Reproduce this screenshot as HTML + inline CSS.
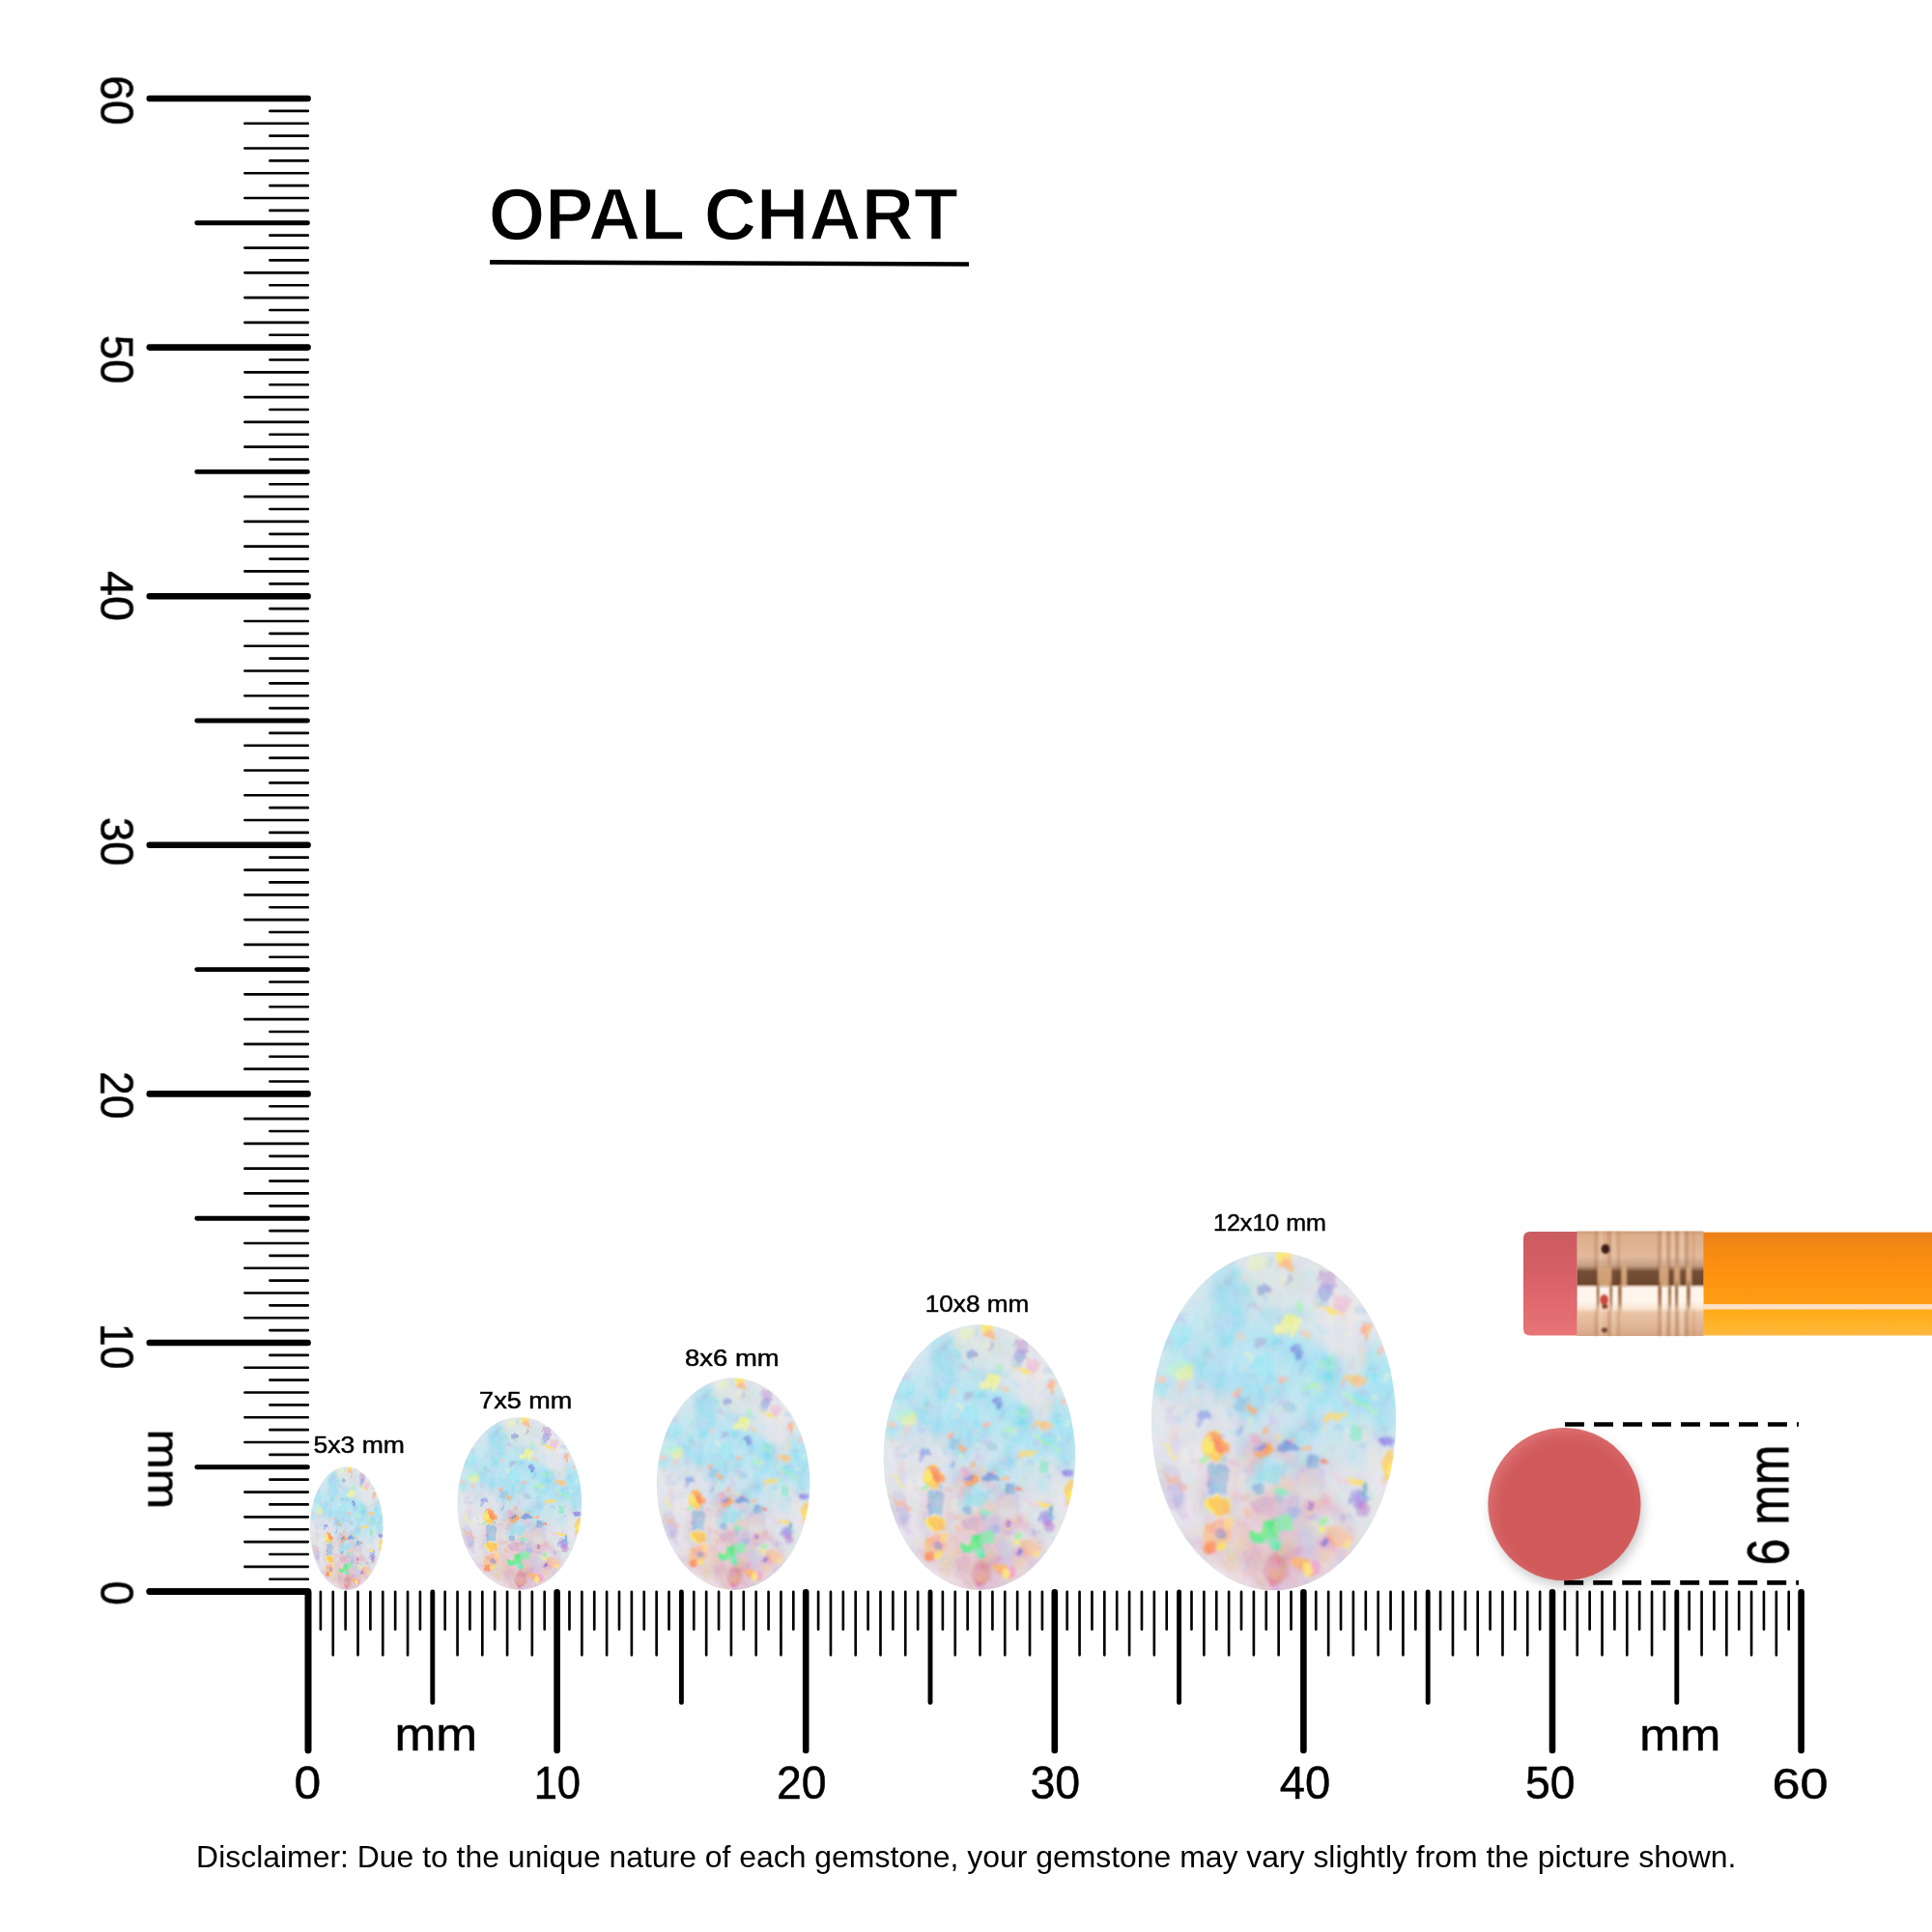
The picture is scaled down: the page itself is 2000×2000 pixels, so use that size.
<!DOCTYPE html>
<html lang="en"><head><meta charset="utf-8"><title>Opal Chart</title>
<style>html,body{margin:0;padding:0;background:#fff}body{width:2000px;height:2000px;overflow:hidden;font-family:"Liberation Sans",sans-serif}svg{display:block}</style></head><body>
<svg width="2000" height="2000" viewBox="0 0 2000 2000">
<defs>
<clipPath id="gclip"><ellipse cx="50" cy="69.2" rx="50" ry="69.2"/></clipPath>
<filter id="gb2" x="-30%" y="-30%" width="160%" height="160%"><feGaussianBlur stdDeviation="5"/></filter>
<filter id="gj" x="-5" y="-5" width="110" height="150" filterUnits="userSpaceOnUse"><feTurbulence type="fractalNoise" baseFrequency="0.22 0.16" numOctaves="3" seed="4" result="n"/><feDisplacementMap in="SourceGraphic" in2="n" scale="5.5" xChannelSelector="R" yChannelSelector="G"/><feGaussianBlur stdDeviation="0.6"/></filter>
<filter id="gj2" x="-5" y="-5" width="110" height="150" filterUnits="userSpaceOnUse"><feTurbulence type="fractalNoise" baseFrequency="0.09 0.07" numOctaves="3" seed="9" result="n"/><feDisplacementMap in="SourceGraphic" in2="n" scale="14" xChannelSelector="R" yChannelSelector="G"/><feGaussianBlur stdDeviation="1.6"/></filter>
<filter id="gn" x="0" y="0" width="100" height="138.4" filterUnits="userSpaceOnUse"><feTurbulence type="fractalNoise" baseFrequency="0.16 0.12" numOctaves="3" seed="21"/><feColorMatrix type="matrix" values="2.6 0 0 0 -0.75  0 2.6 0 0 -0.75  0 0 2.6 0 -0.75  0 0 0 0 1"/><feGaussianBlur stdDeviation="0.3"/></filter>
<g id="gem">
<g clip-path="url(#gclip)">
<rect x="-5" y="-5" width="110" height="150" fill="#dbe4e9"/>
<g filter="url(#gb2)">
<ellipse cx="30" cy="30" rx="30" ry="22" fill="#c4e2ec" opacity=".9"/>
<ellipse cx="36" cy="50" rx="34" ry="15" fill="#a6dcf0" opacity=".95" transform="rotate(-8 36 50)"/>
<ellipse cx="82" cy="54" rx="24" ry="15" fill="#98e0f2" opacity=".95"/>
<ellipse cx="56" cy="44" rx="22" ry="12" fill="#a0e0f2" opacity=".85"/>
<ellipse cx="55" cy="12" rx="26" ry="12" fill="#d9e3e2" opacity=".95"/>
<ellipse cx="80" cy="24" rx="18" ry="15" fill="#e0e2e8" opacity=".95"/>
<ellipse cx="16" cy="86" rx="18" ry="30" fill="#dcdce6" opacity=".95"/>
<ellipse cx="50" cy="118" rx="36" ry="20" fill="#dfc6ce" opacity=".9"/>
<ellipse cx="52" cy="128" rx="16" ry="10" fill="#d89c9e" opacity=".7"/>
<ellipse cx="58" cy="80" rx="20" ry="13" fill="#b8dcea" opacity=".85"/>
<ellipse cx="86" cy="92" rx="14" ry="18" fill="#dedfe6" opacity=".95"/>
<ellipse cx="30" cy="104" rx="10" ry="22" fill="#e8d0c8" opacity=".6"/>
</g>
<g filter="url(#gj2)">
<ellipse cx="45.2" cy="77.2" rx="7.6" ry="5.3" fill="#c8d8e8" opacity="0.79"/>
<ellipse cx="19.0" cy="110.9" rx="5.4" ry="6.1" fill="#dcdce8" opacity="0.49"/>
<ellipse cx="30.3" cy="12.5" rx="7.0" ry="6.5" fill="#98d8ee" opacity="0.69"/>
<ellipse cx="39.6" cy="62.5" rx="6.7" ry="6.3" fill="#98d8ee" opacity="0.78"/>
<ellipse cx="6.3" cy="4.9" rx="7.4" ry="6.0" fill="#c8e0f0" opacity="0.58"/>
<ellipse cx="59.1" cy="27.0" rx="4.2" ry="4.5" fill="#98d8ee" opacity="0.71"/>
<ellipse cx="45.7" cy="38.4" rx="8.0" ry="8.0" fill="#b0e4f4" opacity="0.73"/>
<ellipse cx="31.5" cy="31.7" rx="4.4" ry="3.4" fill="#b0e4f4" opacity="0.61"/>
<ellipse cx="84.7" cy="53.3" rx="7.8" ry="7.2" fill="#98d8ee" opacity="0.54"/>
<ellipse cx="92.7" cy="7.2" rx="4.9" ry="6.5" fill="#d4dee4" opacity="0.48"/>
<ellipse cx="62.9" cy="107.4" rx="4.3" ry="3.4" fill="#c4c4e6" opacity="0.46"/>
<ellipse cx="41.0" cy="127.4" rx="3.7" ry="6.5" fill="#e6bace" opacity="0.47"/>
<ellipse cx="79.7" cy="24.5" rx="5.8" ry="5.2" fill="#e8e6e0" opacity="0.84"/>
<ellipse cx="77.0" cy="57.9" rx="4.9" ry="5.0" fill="#c0e6f0" opacity="0.45"/>
<ellipse cx="86.4" cy="134.5" rx="6.0" ry="8.0" fill="#e4e4ee" opacity="0.53"/>
<ellipse cx="39.4" cy="117.9" rx="6.2" ry="3.5" fill="#f0ccba" opacity="0.54"/>
<ellipse cx="25.8" cy="106.6" rx="4.6" ry="4.5" fill="#e4e4ee" opacity="0.48"/>
<ellipse cx="20.9" cy="87.8" rx="3.1" ry="4.8" fill="#e8dce4" opacity="0.63"/>
<ellipse cx="95.9" cy="66.8" rx="5.9" ry="7.3" fill="#a4dcf0" opacity="0.70"/>
<ellipse cx="31.1" cy="31.5" rx="6.1" ry="6.6" fill="#a4dcf0" opacity="0.75"/>
<ellipse cx="94.0" cy="27.1" rx="7.8" ry="7.4" fill="#e4e4ec" opacity="0.62"/>
<ellipse cx="10.4" cy="5.3" rx="7.8" ry="4.2" fill="#a0e2f0" opacity="0.55"/>
<ellipse cx="82.4" cy="82.3" rx="4.5" ry="3.9" fill="#b0e4f4" opacity="0.50"/>
<ellipse cx="47.9" cy="90.2" rx="6.1" ry="3.4" fill="#a0e2f0" opacity="0.82"/>
<ellipse cx="20.4" cy="2.3" rx="4.3" ry="5.2" fill="#98d8ee" opacity="0.47"/>
<ellipse cx="28.2" cy="73.3" rx="7.9" ry="3.5" fill="#dcdce8" opacity="0.81"/>
<ellipse cx="98.0" cy="90.7" rx="6.5" ry="5.9" fill="#ece6ea" opacity="0.69"/>
<ellipse cx="92.4" cy="65.5" rx="4.8" ry="4.6" fill="#98d8ee" opacity="0.46"/>
<ellipse cx="63.6" cy="66.5" rx="6.7" ry="4.6" fill="#b0e4f4" opacity="0.48"/>
<ellipse cx="54.6" cy="101.7" rx="7.5" ry="6.7" fill="#f0ccba" opacity="0.77"/>
<ellipse cx="91.5" cy="48.6" rx="6.4" ry="7.5" fill="#a0e2f0" opacity="0.83"/>
<ellipse cx="3.0" cy="69.0" rx="3.1" ry="6.3" fill="#e0e4ea" opacity="0.68"/>
<ellipse cx="60.9" cy="11.1" rx="6.2" ry="8.0" fill="#d4dee4" opacity="0.74"/>
<ellipse cx="38.8" cy="101.4" rx="5.9" ry="5.2" fill="#c8d8e8" opacity="0.48"/>
<ellipse cx="75.0" cy="4.1" rx="6.0" ry="5.4" fill="#e8e6e0" opacity="0.83"/>
<ellipse cx="11.3" cy="107.6" rx="6.3" ry="5.4" fill="#e4e4ee" opacity="0.60"/>
<ellipse cx="14.3" cy="84.4" rx="5.6" ry="6.8" fill="#ece6ea" opacity="0.71"/>
<ellipse cx="44.2" cy="123.1" rx="4.6" ry="6.3" fill="#dcb2c4" opacity="0.70"/>
<ellipse cx="80.4" cy="104.1" rx="4.0" ry="4.1" fill="#e0e4ea" opacity="0.68"/>
<ellipse cx="31.6" cy="18.8" rx="5.5" ry="7.2" fill="#98d8ee" opacity="0.73"/>
<ellipse cx="95.0" cy="38.2" rx="3.8" ry="5.3" fill="#dcdce8" opacity="0.82"/>
<ellipse cx="83.1" cy="52.8" rx="5.6" ry="6.4" fill="#c8e0f0" opacity="0.58"/>
<ellipse cx="82.9" cy="38.4" rx="6.0" ry="6.4" fill="#dcdce8" opacity="0.68"/>
<ellipse cx="30.9" cy="109.2" rx="3.1" ry="3.7" fill="#e0e4ea" opacity="0.53"/>
<ellipse cx="76.9" cy="36.8" rx="6.9" ry="7.0" fill="#e4e4ec" opacity="0.63"/>
<ellipse cx="63.0" cy="90.4" rx="7.0" ry="7.8" fill="#dcb2c4" opacity="0.53"/>
<ellipse cx="47.5" cy="24.7" rx="3.1" ry="5.4" fill="#98d8ee" opacity="0.52"/>
<ellipse cx="27.2" cy="47.7" rx="6.5" ry="5.6" fill="#a4dcf0" opacity="0.61"/>
<ellipse cx="79.2" cy="125.1" rx="3.4" ry="7.7" fill="#c4c4e6" opacity="0.61"/>
<ellipse cx="45.1" cy="27.2" rx="7.4" ry="3.0" fill="#b8e2ee" opacity="0.64"/>
<ellipse cx="65.1" cy="28.3" rx="6.6" ry="7.1" fill="#e4e4ec" opacity="0.54"/>
<ellipse cx="90.0" cy="135.3" rx="7.9" ry="5.7" fill="#e2d0da" opacity="0.82"/>
<ellipse cx="26.2" cy="99.1" rx="3.1" ry="5.5" fill="#e4e4ee" opacity="0.63"/>
<ellipse cx="55.0" cy="106.0" rx="5.4" ry="3.1" fill="#d4c2e6" opacity="0.62"/>
<ellipse cx="3.5" cy="73.6" rx="6.4" ry="7.6" fill="#e0e4ea" opacity="0.51"/>
<ellipse cx="51.7" cy="99.9" rx="7.2" ry="6.4" fill="#e8c0b8" opacity="0.68"/>
<ellipse cx="68.9" cy="104.6" rx="5.2" ry="5.8" fill="#e8c0b8" opacity="0.74"/>
<ellipse cx="63.9" cy="72.1" rx="7.2" ry="5.8" fill="#94d4ea" opacity="0.72"/>
<ellipse cx="95.5" cy="120.1" rx="6.0" ry="4.5" fill="#ece6ea" opacity="0.84"/>
<ellipse cx="52.4" cy="79.1" rx="4.0" ry="5.7" fill="#c8d8e8" opacity="0.45"/>
<ellipse cx="37.7" cy="74.3" rx="3.2" ry="7.6" fill="#c8d8e8" opacity="0.77"/>
<ellipse cx="56.3" cy="67.8" rx="6.5" ry="3.3" fill="#c8e0f0" opacity="0.62"/>
<ellipse cx="95.7" cy="127.4" rx="4.3" ry="5.4" fill="#ece6ea" opacity="0.59"/>
<ellipse cx="90.1" cy="129.1" rx="7.6" ry="5.6" fill="#dcdce8" opacity="0.53"/>
<ellipse cx="61.8" cy="127.7" rx="3.6" ry="6.9" fill="#e6bace" opacity="0.46"/>
<ellipse cx="15.6" cy="1.6" rx="4.4" ry="6.6" fill="#c0e6f0" opacity="0.70"/>
<ellipse cx="10.5" cy="100.9" rx="3.6" ry="5.6" fill="#ece6ea" opacity="0.74"/>
<ellipse cx="70.1" cy="121.3" rx="3.1" ry="6.2" fill="#e8c0b8" opacity="0.66"/>
<ellipse cx="16.0" cy="28.2" rx="6.2" ry="6.2" fill="#c0e6f0" opacity="0.79"/>
<ellipse cx="61.2" cy="118.2" rx="4.2" ry="6.7" fill="#c4c4e6" opacity="0.81"/>
<ellipse cx="31.6" cy="43.5" rx="7.6" ry="4.1" fill="#c0e6f0" opacity="0.81"/>
<ellipse cx="13.4" cy="33.0" rx="6.6" ry="4.3" fill="#b0e4f4" opacity="0.62"/>
<ellipse cx="94.1" cy="75.0" rx="6.5" ry="4.0" fill="#98d8ee" opacity="0.49"/>
<ellipse cx="57.0" cy="49.3" rx="7.1" ry="4.8" fill="#b8e2ee" opacity="0.65"/>
<ellipse cx="68.6" cy="26.1" rx="3.4" ry="3.5" fill="#dde4e6" opacity="0.75"/>
<ellipse cx="61.3" cy="124.9" rx="5.4" ry="3.9" fill="#d4c2e6" opacity="0.53"/>
<ellipse cx="84.0" cy="136.7" rx="7.6" ry="3.5" fill="#e4e4ee" opacity="0.50"/>
<ellipse cx="68.1" cy="10.7" rx="3.5" ry="5.0" fill="#d4dee4" opacity="0.66"/>
<ellipse cx="43.0" cy="82.9" rx="3.1" ry="6.5" fill="#a0e2f0" opacity="0.52"/>
<ellipse cx="45.4" cy="102.0" rx="5.0" ry="4.0" fill="#f0ccba" opacity="0.49"/>
<ellipse cx="79.2" cy="44.7" rx="3.4" ry="7.2" fill="#d4dee4" opacity="0.68"/>
<ellipse cx="19.1" cy="80.7" rx="4.7" ry="6.8" fill="#ece6ea" opacity="0.81"/>
<ellipse cx="74.4" cy="107.4" rx="7.1" ry="5.0" fill="#c8d8e8" opacity="0.58"/>
<ellipse cx="53.9" cy="51.0" rx="5.2" ry="3.9" fill="#c0e6f0" opacity="0.74"/>
<ellipse cx="7.1" cy="47.2" rx="5.3" ry="3.1" fill="#b8e2ee" opacity="0.85"/>
<ellipse cx="90.3" cy="6.8" rx="4.4" ry="7.8" fill="#dcdce8" opacity="0.59"/>
<ellipse cx="66.0" cy="78.6" rx="5.7" ry="4.9" fill="#c8e0f0" opacity="0.71"/>
<ellipse cx="70.1" cy="105.1" rx="7.9" ry="3.1" fill="#dcb2c4" opacity="0.49"/>
<ellipse cx="23.7" cy="61.2" rx="5.5" ry="6.8" fill="#d8d8e6" opacity="0.60"/>
<ellipse cx="9.8" cy="34.6" rx="7.5" ry="5.8" fill="#a0e2f0" opacity="0.84"/>
<ellipse cx="56.8" cy="137.3" rx="6.2" ry="7.0" fill="#d4c2e6" opacity="0.67"/>
<ellipse cx="66.8" cy="131.8" rx="4.9" ry="7.7" fill="#e2d0da" opacity="0.64"/>
<ellipse cx="16.9" cy="68.4" rx="6.1" ry="3.3" fill="#e0e4ea" opacity="0.62"/>
<ellipse cx="52.7" cy="82.5" rx="4.8" ry="4.4" fill="#e6bace" opacity="0.67"/>
<ellipse cx="28.4" cy="98.9" rx="4.5" ry="3.1" fill="#dcdce8" opacity="0.68"/>
<ellipse cx="63.3" cy="56.4" rx="6.4" ry="3.3" fill="#b8e2ee" opacity="0.75"/>
<ellipse cx="5.0" cy="136.5" rx="7.7" ry="3.4" fill="#dcdce8" opacity="0.62"/>
<ellipse cx="47.8" cy="134.3" rx="4.2" ry="5.6" fill="#e8c0b8" opacity="0.51"/>
<ellipse cx="96.0" cy="33.8" rx="6.5" ry="3.3" fill="#d4dee4" opacity="0.63"/>
<ellipse cx="20.4" cy="7.2" rx="5.6" ry="3.6" fill="#c8e0f0" opacity="0.51"/>
<ellipse cx="41.7" cy="82.9" rx="6.2" ry="6.4" fill="#dcb2c4" opacity="0.76"/>
<ellipse cx="53.1" cy="137.7" rx="7.8" ry="6.7" fill="#dcb2c4" opacity="0.64"/>
<ellipse cx="50.3" cy="42.6" rx="5.5" ry="7.2" fill="#94d4ea" opacity="0.56"/>
<ellipse cx="68.5" cy="78.0" rx="6.0" ry="6.2" fill="#c0e6f0" opacity="0.53"/>
<ellipse cx="24.9" cy="135.2" rx="7.6" ry="7.4" fill="#e4e4ee" opacity="0.70"/>
<ellipse cx="0.9" cy="35.8" rx="3.1" ry="3.2" fill="#c0e6f0" opacity="0.67"/>
<ellipse cx="7.2" cy="11.9" rx="6.4" ry="5.8" fill="#b8e2ee" opacity="0.64"/>
<ellipse cx="35.4" cy="46.7" rx="5.5" ry="3.7" fill="#b0e4f4" opacity="0.77"/>
<ellipse cx="44.7" cy="113.4" rx="7.2" ry="6.8" fill="#e8c0b8" opacity="0.62"/>
<ellipse cx="25.8" cy="111.8" rx="4.8" ry="6.3" fill="#e8dce4" opacity="0.58"/>
<ellipse cx="54.9" cy="103.0" rx="7.6" ry="5.1" fill="#c4c4e6" opacity="0.68"/>
<ellipse cx="46.2" cy="44.7" rx="5.7" ry="5.2" fill="#c8e0f0" opacity="0.78"/>
<ellipse cx="46.4" cy="113.6" rx="3.0" ry="4.6" fill="#d4c2e6" opacity="0.73"/>
<ellipse cx="49.5" cy="105.5" rx="4.6" ry="7.4" fill="#dcb2c4" opacity="0.59"/>
<ellipse cx="72.6" cy="50.6" rx="3.6" ry="6.5" fill="#94d4ea" opacity="0.63"/>
<ellipse cx="80.3" cy="42.1" rx="4.6" ry="5.0" fill="#e8e6e0" opacity="0.48"/>
<ellipse cx="82.9" cy="3.3" rx="6.4" ry="5.9" fill="#e8e6e0" opacity="0.75"/>
<ellipse cx="36.8" cy="53.9" rx="3.8" ry="6.0" fill="#a4dcf0" opacity="0.52"/>
<ellipse cx="75.9" cy="121.6" rx="4.4" ry="3.1" fill="#f0ccba" opacity="0.47"/>
<ellipse cx="15.9" cy="40.8" rx="3.1" ry="7.2" fill="#a0e2f0" opacity="0.48"/>
<ellipse cx="54.7" cy="108.8" rx="3.4" ry="3.4" fill="#d4c2e6" opacity="0.81"/>
<ellipse cx="8.5" cy="87.5" rx="3.7" ry="6.7" fill="#d8d8e6" opacity="0.62"/>
<ellipse cx="71.2" cy="67.5" rx="7.5" ry="4.7" fill="#c8e0f0" opacity="0.61"/>
<ellipse cx="33.8" cy="133.6" rx="6.4" ry="5.5" fill="#e8dce4" opacity="0.77"/>
<ellipse cx="7.2" cy="85.3" rx="3.2" ry="6.8" fill="#d8d8e6" opacity="0.59"/>
<ellipse cx="0.4" cy="52.2" rx="3.4" ry="5.3" fill="#98d8ee" opacity="0.66"/>
<ellipse cx="71.0" cy="110.7" rx="5.1" ry="5.1" fill="#ece6ea" opacity="0.55"/>
<ellipse cx="16.2" cy="87.7" rx="6.4" ry="4.6" fill="#e0e4ea" opacity="0.62"/>
<ellipse cx="29.2" cy="133.8" rx="3.3" ry="4.5" fill="#e4e4ee" opacity="0.57"/>
<ellipse cx="15.6" cy="126.9" rx="7.6" ry="6.8" fill="#e4e4ee" opacity="0.68"/>
</g>
<path d="M-2 50 C 18 50, 36 70, 40 100 C 42 116, 48 128, 52 140" fill="none" stroke="#f2f2f6" stroke-width="2.5" opacity=".3" filter="url(#gj2)"/>
<g filter="url(#gj)" opacity=".88">
<rect x="88.4" y="5.9" width="1.7" height="1.9" fill="#f4d8c0" opacity="0.32" transform="rotate(60 89.3 6.9)"/>
<rect x="69.8" y="80.7" width="2.0" height="1.9" fill="#b8f0d8" opacity="0.33" transform="rotate(-30 70.9 81.7)"/>
<rect x="60.7" y="126.3" width="2.9" height="3.8" fill="#c090d0" opacity="0.49" transform="rotate(-30 62.2 128.2)"/>
<rect x="64.6" y="103.5" width="1.7" height="3.8" fill="#ffd880" opacity="0.46" transform="rotate(20 65.4 105.4)"/>
<rect x="77.5" y="52.2" width="2.9" height="2.8" fill="#8ec8ec" opacity="0.33" transform="rotate(20 78.9 53.6)"/>
<rect x="85.7" y="117.8" width="3.9" height="2.7" fill="#f0f0c0" opacity="0.32" transform="rotate(60 87.7 119.1)"/>
<rect x="84.2" y="56.8" width="3.6" height="1.8" fill="#a0c0e8" opacity="0.52" transform="rotate(20 86.0 57.7)"/>
<rect x="62.1" y="133.6" width="2.1" height="2.9" fill="#a0a0e0" opacity="0.36" transform="rotate(0 63.1 135.1)"/>
<rect x="20.7" y="123.9" width="1.8" height="1.8" fill="#a0c0e8" opacity="0.36" transform="rotate(0 21.6 124.8)"/>
<rect x="86.6" y="93.2" width="1.6" height="3.5" fill="#a0c0e8" opacity="0.41" transform="rotate(-30 87.4 95.0)"/>
<rect x="2.9" y="25.5" width="1.9" height="3.3" fill="#ffc8a8" opacity="0.48" transform="rotate(20 3.8 27.2)"/>
<rect x="4.2" y="55.3" width="2.8" height="4.1" fill="#9ce4f0" opacity="0.54" transform="rotate(-30 5.6 57.4)"/>
<rect x="38.8" y="74.9" width="4.2" height="3.3" fill="#f0a0c0" opacity="0.33" transform="rotate(20 40.9 76.6)"/>
<rect x="10.8" y="52.8" width="2.7" height="4.1" fill="#ffc8a8" opacity="0.50" transform="rotate(0 12.2 54.8)"/>
<rect x="83.5" y="96.3" width="2.7" height="2.2" fill="#8ec8ec" opacity="0.28" transform="rotate(20 84.9 97.4)"/>
<rect x="87.0" y="20.4" width="3.2" height="4.0" fill="#9ce4f0" opacity="0.47" transform="rotate(35 88.5 22.4)"/>
<rect x="54.4" y="12.4" width="1.9" height="2.5" fill="#d0c0e8" opacity="0.28" transform="rotate(-30 55.3 13.6)"/>
<rect x="54.9" y="97.1" width="2.3" height="3.7" fill="#b8f0d8" opacity="0.28" transform="rotate(60 56.0 99.0)"/>
<rect x="9.4" y="91.9" width="3.4" height="1.9" fill="#ffc8a8" opacity="0.37" transform="rotate(60 11.1 92.8)"/>
<rect x="68.8" y="13.4" width="1.5" height="4.2" fill="#a8b4e0" opacity="0.38" transform="rotate(-30 69.6 15.5)"/>
<rect x="89.0" y="57.6" width="2.8" height="3.2" fill="#f0f0c0" opacity="0.48" transform="rotate(35 90.4 59.2)"/>
<rect x="33.1" y="56.0" width="1.4" height="2.5" fill="#f4d8c0" opacity="0.46" transform="rotate(60 33.8 57.2)"/>
<rect x="51.9" y="35.8" width="1.9" height="2.3" fill="#a0c0e8" opacity="0.38" transform="rotate(35 52.9 36.9)"/>
<rect x="20.6" y="45.7" width="2.2" height="1.7" fill="#d0c0e8" opacity="0.46" transform="rotate(60 21.7 46.6)"/>
<rect x="87.5" y="74.1" width="2.4" height="2.8" fill="#f4d8c0" opacity="0.29" transform="rotate(60 88.7 75.5)"/>
<rect x="95.8" y="95.2" width="4.0" height="3.0" fill="#f4d8c0" opacity="0.26" transform="rotate(0 97.8 96.7)"/>
<rect x="13.8" y="64.9" width="2.6" height="2.3" fill="#9ce4f0" opacity="0.28" transform="rotate(-30 15.1 66.0)"/>
<rect x="44.4" y="17.7" width="4.1" height="1.8" fill="#a0c0e8" opacity="0.52" transform="rotate(60 46.5 18.6)"/>
<rect x="54.8" y="75.1" width="2.1" height="3.9" fill="#f4b0a0" opacity="0.70" transform="rotate(60 55.8 77.1)"/>
<rect x="15.3" y="125.5" width="1.4" height="3.3" fill="#9ce4f0" opacity="0.36" transform="rotate(20 16.0 127.2)"/>
<rect x="19.0" y="74.7" width="1.6" height="1.5" fill="#b8f0d8" opacity="0.30" transform="rotate(-30 19.8 75.4)"/>
<rect x="72.6" y="114.0" width="3.9" height="3.1" fill="#8ec8ec" opacity="0.44" transform="rotate(20 74.6 115.5)"/>
<rect x="20.3" y="63.5" width="1.8" height="2.5" fill="#b8f0d8" opacity="0.42" transform="rotate(-30 21.2 64.7)"/>
<rect x="50.4" y="36.2" width="3.0" height="2.3" fill="#8ec8ec" opacity="0.44" transform="rotate(20 51.9 37.3)"/>
<rect x="39.9" y="67.5" width="1.7" height="2.4" fill="#f0f0c0" opacity="0.52" transform="rotate(-30 40.7 68.7)"/>
<rect x="46.8" y="133.4" width="3.7" height="3.8" fill="#c090d0" opacity="0.46" transform="rotate(0 48.6 135.3)"/>
<rect x="54.9" y="121.9" width="2.9" height="2.9" fill="#ffb080" opacity="0.47" transform="rotate(-30 56.3 123.3)"/>
<rect x="87.5" y="40.4" width="3.1" height="2.6" fill="#9ce4f0" opacity="0.36" transform="rotate(-30 89.1 41.7)"/>
<rect x="85.7" y="117.6" width="2.1" height="3.8" fill="#f0f0c0" opacity="0.32" transform="rotate(0 86.7 119.5)"/>
<rect x="45.7" y="14.7" width="3.9" height="2.9" fill="#f4d8c0" opacity="0.45" transform="rotate(0 47.7 16.1)"/>
<rect x="96.0" y="98.7" width="3.8" height="2.4" fill="#b8f0d8" opacity="0.41" transform="rotate(20 97.9 99.9)"/>
<rect x="63.5" y="57.7" width="1.7" height="1.6" fill="#b8f0d8" opacity="0.41" transform="rotate(0 64.4 58.5)"/>
<rect x="85.4" y="78.1" width="2.7" height="2.2" fill="#8ec8ec" opacity="0.47" transform="rotate(-30 86.7 79.2)"/>
<rect x="17.2" y="59.6" width="2.7" height="2.9" fill="#f4d8c0" opacity="0.29" transform="rotate(0 18.5 61.1)"/>
<rect x="30.3" y="61.8" width="2.3" height="2.3" fill="#ffc8a8" opacity="0.29" transform="rotate(20 31.4 63.0)"/>
<rect x="19.8" y="116.3" width="3.3" height="1.6" fill="#9ce4f0" opacity="0.34" transform="rotate(35 21.5 117.1)"/>
<rect x="1.9" y="85.7" width="3.4" height="3.0" fill="#f4d8c0" opacity="0.41" transform="rotate(20 3.5 87.1)"/>
<rect x="91.5" y="131.7" width="3.2" height="2.3" fill="#d0c0e8" opacity="0.50" transform="rotate(35 93.1 132.8)"/>
<rect x="68.8" y="18.1" width="3.3" height="4.0" fill="#a8b4e0" opacity="0.38" transform="rotate(20 70.5 20.1)"/>
<rect x="21.7" y="42.2" width="3.4" height="2.0" fill="#f4d8c0" opacity="0.30" transform="rotate(60 23.4 43.2)"/>
<rect x="64.6" y="106.3" width="2.4" height="3.3" fill="#b8b0e0" opacity="0.65" transform="rotate(60 65.8 107.9)"/>
<rect x="22.0" y="40.7" width="4.0" height="3.3" fill="#a8b4e0" opacity="0.33" transform="rotate(35 24.0 42.3)"/>
<rect x="94.9" y="59.6" width="2.9" height="2.9" fill="#d0c0e8" opacity="0.26" transform="rotate(60 96.4 61.0)"/>
<rect x="25.3" y="108.5" width="1.6" height="2.2" fill="#f4d8c0" opacity="0.48" transform="rotate(20 26.1 109.6)"/>
<rect x="27.8" y="73.5" width="1.9" height="3.9" fill="#8ec8ec" opacity="0.55" transform="rotate(60 28.8 75.4)"/>
<rect x="45.1" y="100.6" width="2.5" height="4.0" fill="#a0a0e0" opacity="0.50" transform="rotate(0 46.3 102.6)"/>
<rect x="54.2" y="86.8" width="2.4" height="3.2" fill="#a0c0e8" opacity="0.48" transform="rotate(-30 55.4 88.4)"/>
<rect x="48.9" y="113.9" width="3.3" height="2.9" fill="#a0a0e0" opacity="0.68" transform="rotate(60 50.5 115.3)"/>
<rect x="75.3" y="23.1" width="3.1" height="2.1" fill="#d0c0e8" opacity="0.38" transform="rotate(20 76.8 24.1)"/>
<rect x="25.0" y="73.4" width="3.8" height="3.1" fill="#f4d8c0" opacity="0.33" transform="rotate(60 26.9 74.9)"/>
<rect x="93.9" y="7.1" width="2.7" height="3.9" fill="#8ec8ec" opacity="0.35" transform="rotate(60 95.2 9.0)"/>
<rect x="48.3" y="59.2" width="2.6" height="2.1" fill="#a8b4e0" opacity="0.49" transform="rotate(0 49.6 60.2)"/>
<rect x="87.6" y="76.4" width="2.9" height="3.6" fill="#b8f0d8" opacity="0.32" transform="rotate(0 89.1 78.2)"/>
<rect x="30.7" y="6.1" width="2.3" height="3.1" fill="#d0c0e8" opacity="0.41" transform="rotate(60 31.9 7.7)"/>
<rect x="48.4" y="87.9" width="2.8" height="2.5" fill="#ffc8a8" opacity="0.32" transform="rotate(60 49.8 89.1)"/>
<rect x="76.2" y="9.0" width="2.5" height="2.4" fill="#8ec8ec" opacity="0.31" transform="rotate(20 77.5 10.2)"/>
<rect x="46.9" y="103.1" width="4.2" height="1.8" fill="#ffb080" opacity="0.48" transform="rotate(0 49.0 104.0)"/>
<rect x="24.2" y="120.0" width="1.8" height="2.5" fill="#f0f0c0" opacity="0.34" transform="rotate(0 25.1 121.3)"/>
<rect x="93.6" y="91.0" width="3.4" height="4.1" fill="#d0c0e8" opacity="0.43" transform="rotate(-30 95.3 93.1)"/>
<rect x="12.1" y="115.8" width="2.6" height="1.6" fill="#d0c0e8" opacity="0.32" transform="rotate(-30 13.4 116.6)"/>
<rect x="91.8" y="124.8" width="2.0" height="1.8" fill="#8ec8ec" opacity="0.43" transform="rotate(-30 92.9 125.7)"/>
<rect x="54.5" y="122.2" width="3.9" height="4.0" fill="#c090d0" opacity="0.37" transform="rotate(20 56.5 124.2)"/>
<rect x="37.6" y="105.5" width="2.0" height="2.4" fill="#ffa070" opacity="0.37" transform="rotate(20 38.6 106.7)"/>
<rect x="46.6" y="53.9" width="3.1" height="3.5" fill="#ffc8a8" opacity="0.39" transform="rotate(20 48.1 55.6)"/>
<rect x="83.6" y="28.6" width="2.5" height="1.6" fill="#9ce4f0" opacity="0.46" transform="rotate(-30 84.8 29.4)"/>
<rect x="59.9" y="70.1" width="3.5" height="2.8" fill="#f4d8c0" opacity="0.42" transform="rotate(-30 61.6 71.5)"/>
<rect x="10.2" y="7.9" width="3.4" height="3.6" fill="#f4d8c0" opacity="0.29" transform="rotate(0 11.9 9.7)"/>
<rect x="2.7" y="44.3" width="2.5" height="1.6" fill="#9ce4f0" opacity="0.51" transform="rotate(-30 4.0 45.2)"/>
<rect x="75.2" y="70.3" width="1.6" height="2.5" fill="#8ec8ec" opacity="0.32" transform="rotate(20 76.0 71.6)"/>
<rect x="15.7" y="80.6" width="1.5" height="2.3" fill="#a0c0e8" opacity="0.38" transform="rotate(20 16.5 81.8)"/>
<rect x="50.5" y="74.1" width="2.3" height="2.7" fill="#ffd880" opacity="0.45" transform="rotate(-30 51.6 75.5)"/>
<rect x="52.5" y="60.8" width="1.8" height="2.8" fill="#a8b4e0" opacity="0.36" transform="rotate(-30 53.4 62.2)"/>
<rect x="36.7" y="82.0" width="1.8" height="3.8" fill="#a0e8c0" opacity="0.60" transform="rotate(60 37.6 83.9)"/>
<rect x="1.4" y="102.4" width="3.5" height="3.2" fill="#f4d8c0" opacity="0.27" transform="rotate(60 3.1 104.1)"/>
<rect x="66.1" y="89.4" width="4.1" height="3.8" fill="#d0c0e8" opacity="0.32" transform="rotate(0 68.2 91.3)"/>
<rect x="77.4" y="16.7" width="2.8" height="2.8" fill="#d0c0e8" opacity="0.53" transform="rotate(35 78.8 18.1)"/>
<rect x="67.5" y="30.7" width="4.0" height="2.0" fill="#9ce4f0" opacity="0.48" transform="rotate(20 69.5 31.7)"/>
<rect x="50.0" y="99.7" width="3.9" height="3.7" fill="#80b0e0" opacity="0.49" transform="rotate(60 52.0 101.5)"/>
<rect x="29.7" y="123.7" width="3.9" height="1.7" fill="#f0f0c0" opacity="0.52" transform="rotate(-30 31.6 124.6)"/>
<rect x="5.7" y="67.0" width="3.0" height="2.7" fill="#d0c0e8" opacity="0.35" transform="rotate(0 7.2 68.4)"/>
<rect x="2.3" y="47.0" width="3.9" height="3.0" fill="#b8f0d8" opacity="0.33" transform="rotate(35 4.3 48.5)"/>
<rect x="36.9" y="47.0" width="3.9" height="1.5" fill="#f4d8c0" opacity="0.46" transform="rotate(0 38.9 47.8)"/>
<rect x="60.9" y="83.9" width="2.6" height="2.6" fill="#a0e8c0" opacity="0.41" transform="rotate(35 62.2 85.2)"/>
<rect x="37.9" y="123.0" width="1.5" height="1.8" fill="#80b0e0" opacity="0.50" transform="rotate(35 38.7 123.9)"/>
<rect x="35.7" y="131.9" width="1.8" height="1.9" fill="#ffd880" opacity="0.39" transform="rotate(20 36.6 132.9)"/>
<rect x="49.9" y="125.4" width="4.1" height="1.4" fill="#ffa070" opacity="0.52" transform="rotate(0 52.0 126.1)"/>
<rect x="60.1" y="75.1" width="3.7" height="4.1" fill="#9ce4f0" opacity="0.35" transform="rotate(0 61.9 77.1)"/>
<rect x="85.4" y="42.3" width="3.4" height="3.3" fill="#f4d8c0" opacity="0.46" transform="rotate(20 87.1 44.0)"/>
<rect x="15.9" y="83.8" width="2.8" height="3.0" fill="#d0c0e8" opacity="0.36" transform="rotate(-30 17.3 85.3)"/>
<rect x="72.9" y="72.5" width="2.1" height="2.1" fill="#b8f0d8" opacity="0.35" transform="rotate(60 73.9 73.6)"/>
<rect x="70.7" y="117.7" width="4.2" height="3.7" fill="#d0c0e8" opacity="0.52" transform="rotate(0 72.8 119.6)"/>
<rect x="81.8" y="69.9" width="3.3" height="1.5" fill="#f0f0c0" opacity="0.44" transform="rotate(35 83.5 70.7)"/>
<rect x="5.7" y="34.2" width="2.8" height="3.6" fill="#d0c0e8" opacity="0.37" transform="rotate(-30 7.1 36.0)"/>
<rect x="69.5" y="44.0" width="2.3" height="3.5" fill="#b8f0d8" opacity="0.50" transform="rotate(60 70.7 45.8)"/>
<rect x="95.5" y="86.2" width="1.8" height="3.5" fill="#b8f0d8" opacity="0.33" transform="rotate(20 96.4 87.9)"/>
<rect x="20.2" y="83.6" width="2.2" height="3.2" fill="#ffc8a8" opacity="0.54" transform="rotate(60 21.3 85.2)"/>
<rect x="66.6" y="106.9" width="4.0" height="2.2" fill="#d0c0e8" opacity="0.33" transform="rotate(35 68.6 108.0)"/>
<rect x="38.2" y="92.1" width="1.8" height="1.8" fill="#8ec8ec" opacity="0.55" transform="rotate(20 39.1 93.0)"/>
<rect x="27.4" y="99.1" width="4.2" height="1.7" fill="#8ec8ec" opacity="0.35" transform="rotate(60 29.5 100.0)"/>
<rect x="83.3" y="23.6" width="1.6" height="2.6" fill="#d0c0e8" opacity="0.51" transform="rotate(20 84.1 24.9)"/>
<rect x="37.8" y="82.7" width="3.5" height="4.1" fill="#f4d8c0" opacity="0.37" transform="rotate(60 39.6 84.8)"/>
<rect x="27.8" y="116.3" width="2.6" height="3.7" fill="#d0c0e8" opacity="0.42" transform="rotate(35 29.1 118.1)"/>
<rect x="41.6" y="21.3" width="3.9" height="2.2" fill="#d0c0e8" opacity="0.42" transform="rotate(35 43.5 22.3)"/>
<rect x="26.9" y="31.3" width="2.8" height="2.4" fill="#8ec8ec" opacity="0.33" transform="rotate(20 28.3 32.5)"/>
<rect x="7.0" y="120.8" width="2.3" height="1.6" fill="#ffc8a8" opacity="0.30" transform="rotate(20 8.2 121.6)"/>
<rect x="95.8" y="27.7" width="3.8" height="2.8" fill="#a0c0e8" opacity="0.37" transform="rotate(35 97.7 29.1)"/>
<rect x="53.9" y="28.9" width="3.1" height="3.7" fill="#f4d8c0" opacity="0.33" transform="rotate(-30 55.5 30.8)"/>
<rect x="83.7" y="133.4" width="2.6" height="3.7" fill="#b8f0d8" opacity="0.47" transform="rotate(0 85.0 135.2)"/>
<rect x="91.0" y="73.1" width="3.3" height="2.2" fill="#a0c0e8" opacity="0.26" transform="rotate(-30 92.7 74.2)"/>
<rect x="6.1" y="63.6" width="3.9" height="1.6" fill="#a0c0e8" opacity="0.36" transform="rotate(-30 8.0 64.4)"/>
<rect x="78.0" y="106.9" width="3.5" height="2.5" fill="#a8b4e0" opacity="0.49" transform="rotate(35 79.8 108.2)"/>
<rect x="39.6" y="94.5" width="2.1" height="3.9" fill="#b8f0d8" opacity="0.26" transform="rotate(20 40.6 96.5)"/>
<rect x="31.7" y="98.0" width="2.8" height="2.2" fill="#ffc8a8" opacity="0.55" transform="rotate(-30 33.1 99.1)"/>
<rect x="30.4" y="9.4" width="3.2" height="3.1" fill="#f4d8c0" opacity="0.33" transform="rotate(20 32.0 10.9)"/>
<rect x="20.8" y="99.9" width="2.9" height="3.3" fill="#a8b4e0" opacity="0.30" transform="rotate(20 22.3 101.6)"/>
<rect x="14.4" y="48.2" width="2.6" height="1.4" fill="#f0f0c0" opacity="0.40" transform="rotate(0 15.7 48.9)"/>
<rect x="30.8" y="73.0" width="4.1" height="2.0" fill="#9ce4f0" opacity="0.51" transform="rotate(0 32.9 74.0)"/>
<rect x="72.3" y="15.2" width="4.2" height="2.6" fill="#f4d8c0" opacity="0.54" transform="rotate(35 74.4 16.5)"/>
<rect x="40.2" y="95.5" width="1.9" height="2.2" fill="#9ce4f0" opacity="0.45" transform="rotate(20 41.2 96.6)"/>
<rect x="75.9" y="70.6" width="1.4" height="3.4" fill="#8ec8ec" opacity="0.45" transform="rotate(20 76.7 72.4)"/>
<rect x="59.9" y="46.5" width="2.6" height="3.4" fill="#a8b4e0" opacity="0.38" transform="rotate(0 61.2 48.2)"/>
<rect x="81.1" y="92.8" width="2.7" height="3.3" fill="#f0f0c0" opacity="0.38" transform="rotate(60 82.4 94.4)"/>
<rect x="22.6" y="81.1" width="3.0" height="2.8" fill="#ffc8a8" opacity="0.26" transform="rotate(35 24.1 82.5)"/>
<rect x="28.5" y="7.0" width="1.6" height="2.3" fill="#9ce4f0" opacity="0.41" transform="rotate(-30 29.3 8.2)"/>
<rect x="71.1" y="41.9" width="3.5" height="4.2" fill="#b8f0d8" opacity="0.37" transform="rotate(35 72.8 43.9)"/>
<rect x="10.7" y="25.2" width="4.0" height="3.6" fill="#a8b4e0" opacity="0.29" transform="rotate(0 12.7 27.0)"/>
<rect x="50.3" y="133.2" width="1.6" height="3.8" fill="#80b0e0" opacity="0.58" transform="rotate(60 51.1 135.2)"/>
<rect x="78.0" y="60.9" width="2.9" height="3.8" fill="#d0c0e8" opacity="0.31" transform="rotate(20 79.5 62.8)"/>
<rect x="7.3" y="75.0" width="3.6" height="2.8" fill="#ffc8a8" opacity="0.32" transform="rotate(0 9.1 76.4)"/>
<rect x="74.0" y="73.8" width="3.9" height="3.6" fill="#9ce4f0" opacity="0.30" transform="rotate(20 76.0 75.6)"/>
<rect x="10.4" y="5.0" width="2.4" height="3.8" fill="#a8b4e0" opacity="0.50" transform="rotate(35 11.6 6.9)"/>
<rect x="17.6" y="52.5" width="3.8" height="3.1" fill="#a8b4e0" opacity="0.52" transform="rotate(0 19.4 54.1)"/>
<rect x="95.3" y="27.8" width="3.2" height="3.9" fill="#f4d8c0" opacity="0.47" transform="rotate(60 96.8 29.7)"/>
<rect x="65.4" y="58.5" width="1.4" height="2.4" fill="#d0c0e8" opacity="0.34" transform="rotate(60 66.2 59.7)"/>
<rect x="20.3" y="29.1" width="3.5" height="1.9" fill="#8ec8ec" opacity="0.42" transform="rotate(20 22.0 30.1)"/>
<rect x="27.5" y="35.1" width="2.4" height="3.1" fill="#8ec8ec" opacity="0.34" transform="rotate(0 28.7 36.7)"/>
<rect x="67.2" y="99.5" width="2.4" height="2.3" fill="#b8f0d8" opacity="0.37" transform="rotate(0 68.4 100.7)"/>
<rect x="60.7" y="57.6" width="3.7" height="2.5" fill="#a0c0e8" opacity="0.39" transform="rotate(0 62.6 58.9)"/>
<rect x="90.7" y="47.4" width="3.4" height="2.1" fill="#d0c0e8" opacity="0.42" transform="rotate(0 92.4 48.4)"/>
<rect x="83.9" y="38.7" width="3.8" height="3.3" fill="#ffc8a8" opacity="0.39" transform="rotate(35 85.8 40.4)"/>
<rect x="20.1" y="55.9" width="2.0" height="3.2" fill="#9ce4f0" opacity="0.36" transform="rotate(-30 21.1 57.5)"/>
<rect x="57.0" y="88.6" width="2.1" height="3.3" fill="#f4d8c0" opacity="0.25" transform="rotate(0 58.1 90.2)"/>
<rect x="39.6" y="18.7" width="3.9" height="2.1" fill="#9ce4f0" opacity="0.38" transform="rotate(0 41.5 19.7)"/>
<rect x="79.2" y="114.5" width="3.1" height="2.9" fill="#f4d8c0" opacity="0.28" transform="rotate(0 80.8 115.9)"/>
<rect x="77.1" y="2.6" width="1.5" height="3.1" fill="#8ec8ec" opacity="0.46" transform="rotate(20 77.8 4.2)"/>
<rect x="45.7" y="49.3" width="2.7" height="2.3" fill="#8ec8ec" opacity="0.45" transform="rotate(20 47.0 50.5)"/>
<rect x="94.5" y="133.1" width="2.5" height="3.7" fill="#a8b4e0" opacity="0.44" transform="rotate(0 95.7 135.0)"/>
<rect x="7.1" y="62.3" width="2.5" height="3.2" fill="#f4d8c0" opacity="0.32" transform="rotate(35 8.4 63.9)"/>
<rect x="36.3" y="19.4" width="2.5" height="3.5" fill="#b8f0d8" opacity="0.28" transform="rotate(60 37.5 21.2)"/>
<rect x="75.9" y="121.4" width="3.3" height="4.1" fill="#a8b4e0" opacity="0.39" transform="rotate(35 77.5 123.4)"/>
<rect x="45.1" y="2.1" width="3.8" height="4.0" fill="#8ec8ec" opacity="0.52" transform="rotate(0 47.0 4.1)"/>
<rect x="34.3" y="73.0" width="2.9" height="1.7" fill="#80b0e0" opacity="0.62" transform="rotate(60 35.7 73.8)"/>
<rect x="55.1" y="9.4" width="2.1" height="3.3" fill="#d0c0e8" opacity="0.40" transform="rotate(-30 56.1 11.1)"/>
<rect x="34.3" y="33.6" width="3.1" height="2.7" fill="#ffc8a8" opacity="0.55" transform="rotate(20 35.9 35.0)"/>
<rect x="53.7" y="62.7" width="3.8" height="1.7" fill="#b8f0d8" opacity="0.51" transform="rotate(20 55.6 63.6)"/>
<rect x="93.9" y="70.8" width="2.5" height="3.1" fill="#a8b4e0" opacity="0.51" transform="rotate(35 95.2 72.3)"/>
<rect x="79.1" y="31.8" width="3.6" height="1.7" fill="#f0f0c0" opacity="0.47" transform="rotate(20 80.9 32.7)"/>
<rect x="29.0" y="83.5" width="2.5" height="2.8" fill="#a0c0e8" opacity="0.52" transform="rotate(0 30.2 84.9)"/>
<rect x="38.4" y="40.7" width="2.0" height="2.9" fill="#f0f0c0" opacity="0.45" transform="rotate(-30 39.4 42.1)"/>
<rect x="85.9" y="27.8" width="4.2" height="3.0" fill="#a0c0e8" opacity="0.29" transform="rotate(0 88.0 29.3)"/>
<rect x="38.1" y="41.1" width="3.5" height="2.1" fill="#f0f0c0" opacity="0.36" transform="rotate(35 39.9 42.1)"/>
<rect x="37.8" y="88.1" width="2.3" height="1.7" fill="#a0c0e8" opacity="0.34" transform="rotate(0 38.9 88.9)"/>
<rect x="16.5" y="51.4" width="2.3" height="3.7" fill="#9ce4f0" opacity="0.45" transform="rotate(0 17.7 53.2)"/>
<rect x="31.2" y="65.1" width="2.0" height="3.5" fill="#8ec8ec" opacity="0.40" transform="rotate(-30 32.2 66.9)"/>
<rect x="40.3" y="130.0" width="1.4" height="3.1" fill="#f4b0a0" opacity="0.68" transform="rotate(60 41.0 131.5)"/>
<rect x="67.6" y="112.8" width="2.0" height="3.5" fill="#b8f0d8" opacity="0.27" transform="rotate(35 68.6 114.6)"/>
<rect x="12.1" y="101.7" width="2.4" height="3.8" fill="#d0c0e8" opacity="0.31" transform="rotate(35 13.3 103.6)"/>
<rect x="63.3" y="50.5" width="1.7" height="3.0" fill="#f0f0c0" opacity="0.28" transform="rotate(20 64.1 52.0)"/>
<rect x="80.7" y="44.1" width="2.3" height="3.7" fill="#d0c0e8" opacity="0.49" transform="rotate(0 81.8 46.0)"/>
<rect x="96.7" y="66.9" width="2.5" height="1.6" fill="#9ce4f0" opacity="0.29" transform="rotate(0 98.0 67.7)"/>
<rect x="60.2" y="92.0" width="2.0" height="2.9" fill="#ffc8a8" opacity="0.50" transform="rotate(35 61.2 93.5)"/>
<rect x="32.2" y="84.0" width="4.0" height="3.7" fill="#f0a0c0" opacity="0.37" transform="rotate(35 34.2 85.8)"/>
<rect x="66.0" y="19.1" width="3.5" height="3.3" fill="#ffc8a8" opacity="0.49" transform="rotate(-30 67.8 20.8)"/>
<rect x="86.3" y="97.5" width="3.7" height="4.1" fill="#a0c0e8" opacity="0.36" transform="rotate(0 88.1 99.5)"/>
<rect x="67.8" y="53.6" width="3.3" height="3.2" fill="#f4d8c0" opacity="0.28" transform="rotate(0 69.5 55.2)"/>
<rect x="39.9" y="73.0" width="3.7" height="1.7" fill="#a0e8c0" opacity="0.65" transform="rotate(35 41.8 73.9)"/>
<rect x="3.8" y="58.2" width="2.5" height="3.3" fill="#ffc8a8" opacity="0.53" transform="rotate(35 5.0 59.9)"/>
<rect x="66.4" y="53.1" width="3.6" height="1.7" fill="#b8f0d8" opacity="0.47" transform="rotate(60 68.2 54.0)"/>
<rect x="31.3" y="2.4" width="3.7" height="3.2" fill="#a0c0e8" opacity="0.36" transform="rotate(35 33.1 4.0)"/>
<rect x="44.1" y="79.1" width="2.7" height="3.6" fill="#f0f0c0" opacity="0.29" transform="rotate(-30 45.5 80.9)"/>
<rect x="9.1" y="66.4" width="3.2" height="2.4" fill="#8ec8ec" opacity="0.37" transform="rotate(-30 10.7 67.6)"/>
<rect x="89.4" y="108.5" width="2.1" height="2.1" fill="#a8b4e0" opacity="0.31" transform="rotate(60 90.5 109.6)"/>
<rect x="17.8" y="56.2" width="2.9" height="2.5" fill="#b8f0d8" opacity="0.29" transform="rotate(60 19.3 57.4)"/>
<rect x="9.9" y="42.3" width="3.8" height="1.5" fill="#b8f0d8" opacity="0.46" transform="rotate(60 11.8 43.1)"/>
<rect x="47.7" y="65.5" width="2.7" height="4.1" fill="#d0c0e8" opacity="0.36" transform="rotate(0 49.1 67.6)"/>
<rect x="23.6" y="21.0" width="4.2" height="3.8" fill="#9ce4f0" opacity="0.47" transform="rotate(0 25.7 22.9)"/>
<rect x="16.7" y="25.4" width="1.9" height="4.2" fill="#9ce4f0" opacity="0.36" transform="rotate(-30 17.7 27.5)"/>
<rect x="10.6" y="106.0" width="3.7" height="3.1" fill="#d0c0e8" opacity="0.50" transform="rotate(0 12.5 107.5)"/>
<rect x="24.5" y="3.7" width="2.9" height="2.1" fill="#d0c0e8" opacity="0.34" transform="rotate(60 25.9 4.7)"/>
<rect x="13.5" y="65.9" width="2.2" height="2.2" fill="#a0c0e8" opacity="0.33" transform="rotate(20 14.6 67.0)"/>
<rect x="84.0" y="21.6" width="3.8" height="3.8" fill="#a0c0e8" opacity="0.43" transform="rotate(20 85.9 23.5)"/>
<rect x="51.3" y="88.6" width="4.0" height="3.6" fill="#8ec8ec" opacity="0.33" transform="rotate(35 53.3 90.4)"/>
<rect x="90.1" y="49.6" width="3.6" height="2.1" fill="#9ce4f0" opacity="0.39" transform="rotate(-30 91.9 50.6)"/>
<rect x="70.6" y="127.0" width="2.8" height="3.0" fill="#f4d8c0" opacity="0.35" transform="rotate(0 72.0 128.4)"/>
<rect x="91.2" y="15.2" width="4.0" height="3.2" fill="#8ec8ec" opacity="0.27" transform="rotate(0 93.2 16.8)"/>
<rect x="90.6" y="129.6" width="1.9" height="2.4" fill="#b8f0d8" opacity="0.36" transform="rotate(0 91.6 130.8)"/>
<rect x="92.2" y="89.8" width="1.8" height="2.6" fill="#a0c0e8" opacity="0.29" transform="rotate(60 93.1 91.1)"/>
<rect x="8.5" y="71.2" width="1.9" height="2.9" fill="#ffc8a8" opacity="0.36" transform="rotate(20 9.4 72.6)"/>
<rect x="85.5" y="14.7" width="1.8" height="1.9" fill="#8ec8ec" opacity="0.46" transform="rotate(60 86.4 15.6)"/>
<rect x="91.4" y="120.4" width="1.6" height="3.9" fill="#f4d8c0" opacity="0.33" transform="rotate(-30 92.2 122.4)"/>
<rect x="90.1" y="130.8" width="4.1" height="4.0" fill="#8ec8ec" opacity="0.51" transform="rotate(60 92.1 132.8)"/>
<rect x="47.4" y="79.6" width="3.3" height="3.1" fill="#b8f0d8" opacity="0.43" transform="rotate(0 49.0 81.1)"/>
<rect x="73.9" y="22.2" width="4.0" height="1.7" fill="#d0c0e8" opacity="0.34" transform="rotate(0 75.8 23.1)"/>
<rect x="40.8" y="20.4" width="1.9" height="3.1" fill="#a8b4e0" opacity="0.50" transform="rotate(0 41.8 22.0)"/>
<rect x="36.6" y="129.1" width="2.0" height="2.5" fill="#f4b0a0" opacity="0.39" transform="rotate(-30 37.6 130.4)"/>
<rect x="21.1" y="53.5" width="3.9" height="2.1" fill="#9ce4f0" opacity="0.26" transform="rotate(60 23.1 54.5)"/>
<rect x="70.2" y="70.2" width="2.4" height="3.2" fill="#f0f0c0" opacity="0.53" transform="rotate(20 71.4 71.8)"/>
<rect x="19.9" y="29.3" width="2.7" height="2.0" fill="#b8f0d8" opacity="0.53" transform="rotate(20 21.3 30.3)"/>
<rect x="65.6" y="82.3" width="3.1" height="3.0" fill="#8ec8ec" opacity="0.42" transform="rotate(20 67.1 83.8)"/>
<rect x="30.4" y="9.1" width="2.8" height="3.5" fill="#8ec8ec" opacity="0.31" transform="rotate(20 31.8 10.8)"/>
<rect x="52.1" y="11.5" width="3.5" height="2.1" fill="#f0f0c0" opacity="0.32" transform="rotate(60 53.8 12.5)"/>
<rect x="95.8" y="49.7" width="2.4" height="4.0" fill="#f0f0c0" opacity="0.55" transform="rotate(20 97.0 51.7)"/>
<rect x="41.2" y="89.8" width="2.1" height="4.2" fill="#d0c0e8" opacity="0.31" transform="rotate(60 42.2 91.8)"/>
<rect x="57.6" y="99.5" width="2.7" height="3.7" fill="#a0e8c0" opacity="0.31" transform="rotate(0 59.0 101.4)"/>
<rect x="36.5" y="9.8" width="4.0" height="1.8" fill="#ffc8a8" opacity="0.31" transform="rotate(20 38.5 10.7)"/>
<rect x="89.4" y="46.9" width="4.0" height="1.8" fill="#8ec8ec" opacity="0.46" transform="rotate(20 91.4 47.8)"/>
<rect x="23.7" y="94.1" width="2.1" height="3.8" fill="#ffc8a8" opacity="0.52" transform="rotate(-30 24.8 96.0)"/>
<rect x="36.7" y="16.1" width="2.2" height="4.0" fill="#b8f0d8" opacity="0.27" transform="rotate(-30 37.7 18.1)"/>
<rect x="65.8" y="17.0" width="2.3" height="3.0" fill="#a0c0e8" opacity="0.33" transform="rotate(60 66.9 18.5)"/>
<rect x="78.5" y="60.2" width="3.6" height="2.1" fill="#f4d8c0" opacity="0.28" transform="rotate(0 80.3 61.3)"/>
<ellipse cx="54.2" cy="3.0" rx="4.0" ry="2.7" fill="#ffe65a" opacity="0.95" transform="rotate(10 54.2 3.0)"/>
<rect x="52.4" y="2.5" width="5.3" height="4.3" fill="#ffb46a" opacity="0.8" transform="rotate(20 55.0 4.6)"/>
<ellipse cx="42.8" cy="4.6" rx="4.3" ry="2.7" fill="#e6f0b4" opacity="0.7"/>
<ellipse cx="71.5" cy="11.5" rx="3.7" ry="3.7" fill="#b88ccc" opacity="0.7" transform="rotate(20 71.5 11.5)"/>
<ellipse cx="71.5" cy="16.3" rx="3.2" ry="3.2" fill="#949ae6" opacity="0.7" transform="rotate(25 71.5 16.3)"/>
<ellipse cx="69.1" cy="20.3" rx="1.3" ry="1.3" fill="#8ad8f0" opacity="0.9"/>
<ellipse cx="77.9" cy="21.1" rx="4.3" ry="3.2" fill="#f2b4d2" opacity="0.7" transform="rotate(30 77.9 21.1)"/>
<rect x="70.9" y="20.6" width="1.5" height="5.6" fill="#ffe05a" opacity="0.95" transform="rotate(-55 71.6 23.4)"/>
<rect x="72.6" y="21.0" width="1.5" height="5.6" fill="#ffe05a" opacity="0.95" transform="rotate(-55 73.4 23.7)"/>
<rect x="74.4" y="21.3" width="1.5" height="5.6" fill="#ffe05a" opacity="0.95" transform="rotate(-55 75.1 24.1)"/>
<ellipse cx="46.0" cy="15.8" rx="2.7" ry="2.1" fill="#8898d8" opacity="0.85"/>
<ellipse cx="56.1" cy="11.5" rx="1.6" ry="2.1" fill="#a4aedc" opacity="0.7"/>
<ellipse cx="31.1" cy="12.1" rx="2.1" ry="1.6" fill="#b4c4de" opacity="0.6"/>
<ellipse cx="56.1" cy="29.6" rx="5.3" ry="4.3" fill="#e8f08c" opacity="0.8" transform="rotate(-25 56.1 29.6)"/>
<rect x="52.0" y="25.2" width="2.5" height="7.8" fill="#f6f8a0" opacity="0.8" transform="rotate(35 53.2 29.1)"/>
<rect x="54.9" y="25.7" width="2.5" height="7.8" fill="#f6f8a0" opacity="0.8" transform="rotate(35 56.1 29.6)"/>
<rect x="57.7" y="26.2" width="2.5" height="7.8" fill="#f6f8a0" opacity="0.8" transform="rotate(35 59.0 30.1)"/>
<ellipse cx="60.1" cy="23.2" rx="1.3" ry="2.1" fill="#a0f4b4" opacity="0.9" transform="rotate(-20 60.1 23.2)"/>
<ellipse cx="59.8" cy="40.5" rx="2.7" ry="2.4" fill="#8890e0" opacity="0.9"/>
<ellipse cx="43.9" cy="37.0" rx="2.1" ry="2.1" fill="#a6aed4" opacity="0.7"/>
<ellipse cx="46.0" cy="46.1" rx="6.4" ry="4.8" fill="#98e6f4" opacity="0.8" transform="rotate(-30 46.0 46.1)"/>
<rect x="85.3" y="29.6" width="4.3" height="5.3" fill="#ffa070" opacity="0.9" transform="rotate(20 87.5 32.2)"/>
<ellipse cx="93.3" cy="39.7" rx="1.6" ry="1.6" fill="#ffb494" opacity="0.9"/>
<ellipse cx="72.0" cy="45.8" rx="3.2" ry="2.9" fill="#9cecc8" opacity="0.8"/>
<rect x="78.1" y="50.5" width="2.1" height="3.3" fill="#ffc05a" opacity="0.9" transform="rotate(30 79.2 52.2)"/>
<rect x="80.6" y="50.7" width="2.1" height="3.3" fill="#ffc05a" opacity="0.9" transform="rotate(30 81.7 52.4)"/>
<rect x="83.1" y="50.8" width="2.1" height="3.3" fill="#ffc05a" opacity="0.9" transform="rotate(30 84.2 52.5)"/>
<rect x="85.6" y="51.0" width="2.1" height="3.3" fill="#ffc05a" opacity="0.9" transform="rotate(30 86.7 52.7)"/>
<rect x="77.9" y="51.4" width="9.6" height="2.7" fill="#ffc8a0" opacity="0.5"/>
<line x1="61.9" y1="56.2" x2="68.9" y2="53.5" stroke="#a8fa9c" stroke-width="1.0" stroke-linecap="round" opacity="0.95"/>
<line x1="65.1" y1="55.1" x2="68.3" y2="57.2" stroke="#c0fa9c" stroke-width="0.9" stroke-linecap="round" opacity="0.9"/>
<line x1="79.0" y1="58.3" x2="91.7" y2="65.7" stroke="#b0f8a0" stroke-width="1.1" stroke-linecap="round" opacity="0.95"/>
<ellipse cx="11.2" cy="48.7" rx="5.6" ry="4.3" fill="#b4f4c4" opacity="0.75" transform="rotate(-10 11.2 48.7)"/>
<ellipse cx="13.3" cy="49.8" rx="3.5" ry="3.2" fill="#f0f0a0" opacity="0.7" transform="rotate(20 13.3 49.8)"/>
<ellipse cx="3.2" cy="53.0" rx="1.9" ry="2.1" fill="#ffc0b0" opacity="0.8"/>
<ellipse cx="35.1" cy="57.5" rx="2.4" ry="1.9" fill="#ffb090" opacity="0.9"/>
<ellipse cx="52.9" cy="53.0" rx="1.6" ry="1.6" fill="#ffb4a4" opacity="0.9"/>
<rect x="39.6" y="62.5" width="3.7" height="3.2" fill="#ffa070" opacity="0.9" transform="rotate(20 41.5 64.1)"/>
<rect x="34.3" y="59.9" width="5.3" height="4.3" fill="#88c0e0" opacity="0.85" transform="rotate(20 37.0 62.0)"/>
<ellipse cx="20.8" cy="66.3" rx="2.4" ry="2.1" fill="#8898e8" opacity="0.9"/>
<rect x="70.0" y="66.0" width="1.8" height="2.8" fill="#ffd860" opacity="0.95" transform="rotate(30 70.9 67.4)"/>
<rect x="72.2" y="66.1" width="1.8" height="2.8" fill="#ffd860" opacity="0.95" transform="rotate(30 73.1 67.5)"/>
<rect x="74.3" y="66.3" width="1.8" height="2.8" fill="#ffd860" opacity="0.95" transform="rotate(30 75.2 67.6)"/>
<rect x="76.5" y="66.4" width="1.8" height="2.8" fill="#ffd860" opacity="0.95" transform="rotate(30 77.4 67.8)"/>
<ellipse cx="61.9" cy="34.1" rx="1.6" ry="1.9" fill="#ffc0a8" opacity="0.7"/>
<ellipse cx="37.8" cy="35.2" rx="1.3" ry="1.3" fill="#f4c4c0" opacity="0.6"/>
<ellipse cx="56.6" cy="63.3" rx="2.7" ry="1.9" fill="#8cc0dc" opacity="0.6"/>
<ellipse cx="25.6" cy="79.7" rx="5.6" ry="6.4" fill="#ffc848" opacity="0.95" transform="rotate(10 25.6 79.7)"/>
<ellipse cx="23.7" cy="78.9" rx="3.2" ry="3.5" fill="#ffec58" opacity="0.95" transform="rotate(10 23.7 78.9)"/>
<rect x="24.7" y="73.1" width="1.8" height="8.9" fill="#ff9454" opacity="0.9" transform="rotate(-25 25.6 77.5)"/>
<rect x="26.8" y="73.6" width="1.8" height="8.9" fill="#ff9454" opacity="0.9" transform="rotate(-25 27.7 78.1)"/>
<rect x="28.9" y="74.2" width="1.8" height="8.9" fill="#ff9454" opacity="0.9" transform="rotate(-25 29.7 78.7)"/>
<ellipse cx="21.0" cy="84.0" rx="1.6" ry="1.6" fill="#90f4a0" opacity="0.9"/>
<line x1="4.8" y1="80.0" x2="10.1" y2="84.2" stroke="#f6f07c" stroke-width="1.3" stroke-linecap="round" opacity="0.95"/>
<rect x="23.2" y="87.1" width="8.0" height="11.7" fill="#86a8d2" opacity="0.7" transform="rotate(5 27.1 93.0)"/>
<rect x="24.2" y="94.6" width="4.8" height="3.7" fill="#88c4e4" opacity="0.75"/>
<ellipse cx="27.4" cy="103.3" rx="4.8" ry="4.0" fill="#ffe650" opacity="0.95" transform="rotate(15 27.4 103.3)"/>
<rect x="24.8" y="99.2" width="2.0" height="7.8" fill="#ffb050" opacity="0.8" transform="rotate(-20 25.8 103.1)"/>
<rect x="27.2" y="99.7" width="2.0" height="7.8" fill="#ffb050" opacity="0.8" transform="rotate(-20 28.2 103.6)"/>
<rect x="29.6" y="100.2" width="2.0" height="7.8" fill="#ffb050" opacity="0.8" transform="rotate(-20 30.6 104.1)"/>
<ellipse cx="26.3" cy="115.8" rx="5.8" ry="7.4" fill="#ffb070" opacity="0.7" transform="rotate(15 26.3 115.8)"/>
<ellipse cx="24.5" cy="120.9" rx="2.4" ry="2.9" fill="#ff7a50" opacity="0.9" transform="rotate(10 24.5 120.9)"/>
<ellipse cx="28.5" cy="120.6" rx="1.6" ry="1.6" fill="#ffe050" opacity="0.9"/>
<ellipse cx="27.9" cy="115.8" rx="1.6" ry="2.1" fill="#9c80c8" opacity="0.7" transform="rotate(10 27.9 115.8)"/>
<rect x="29.0" y="108.9" width="4.3" height="4.8" fill="#ffd070" opacity="0.9"/>
<ellipse cx="8.8" cy="96.7" rx="4.3" ry="10.6" fill="#c4bae0" opacity="0.6" transform="rotate(-15 8.8 96.7)"/>
<rect x="6.3" y="86.6" width="1.1" height="11.7" fill="#f4a890" opacity="0.7" transform="rotate(-50 6.8 92.5)"/>
<rect x="8.0" y="87.4" width="1.1" height="11.7" fill="#f4a890" opacity="0.7" transform="rotate(-50 8.5 93.3)"/>
<rect x="9.8" y="88.1" width="1.1" height="11.7" fill="#f4a890" opacity="0.7" transform="rotate(-50 10.3 94.0)"/>
<ellipse cx="46.0" cy="82.1" rx="4.3" ry="2.4" fill="#ffa050" opacity="0.9" transform="rotate(-20 46.0 82.1)"/>
<rect x="41.8" y="79.2" width="4.3" height="2.1" fill="#7090e0" opacity="0.9"/>
<ellipse cx="63.3" cy="79.7" rx="2.4" ry="1.6" fill="#ffb080" opacity="0.9"/>
<ellipse cx="69.7" cy="86.3" rx="1.9" ry="1.3" fill="#ff8060" opacity="0.9"/>
<ellipse cx="56.4" cy="79.7" rx="4.0" ry="2.7" fill="#6c94d8" opacity="0.85"/>
<ellipse cx="65.7" cy="85.5" rx="2.7" ry="3.2" fill="#74b0d4" opacity="0.8"/>
<rect x="42.8" y="87.1" width="9.6" height="7.4" fill="#98dce8" opacity="0.8"/>
<ellipse cx="53.2" cy="98.0" rx="1.9" ry="1.9" fill="#70f0c0" opacity="0.9"/>
<ellipse cx="43.9" cy="97.5" rx="3.2" ry="1.9" fill="#80b0d8" opacity="0.85"/>
<ellipse cx="46.0" cy="103.6" rx="4.3" ry="3.7" fill="#dca0cc" opacity="0.7"/>
<ellipse cx="43.9" cy="116.4" rx="3.2" ry="2.7" fill="#50f080" opacity="0.95"/>
<ellipse cx="48.7" cy="113.7" rx="3.7" ry="3.2" fill="#5cf088" opacity="0.95" transform="rotate(-30 48.7 113.7)"/>
<ellipse cx="54.2" cy="110.8" rx="4.0" ry="2.9" fill="#7cf0a0" opacity="0.9" transform="rotate(-30 54.2 110.8)"/>
<ellipse cx="49.7" cy="119.6" rx="2.7" ry="2.7" fill="#60eeb0" opacity="0.9" transform="rotate(20 49.7 119.6)"/>
<ellipse cx="69.1" cy="109.5" rx="1.9" ry="2.1" fill="#90f0a0" opacity="0.9"/>
<ellipse cx="69.1" cy="113.4" rx="1.3" ry="1.3" fill="#fff060" opacity="0.9"/>
<ellipse cx="65.4" cy="103.3" rx="1.3" ry="1.9" fill="#a070c0" opacity="0.85"/>
<rect x="80.5" y="91.0" width="1.6" height="5.0" fill="#ffe050" opacity="0.95" transform="rotate(-55 81.3 93.5)"/>
<rect x="82.4" y="91.3" width="1.6" height="5.0" fill="#ffe050" opacity="0.95" transform="rotate(-55 83.2 93.8)"/>
<rect x="84.3" y="91.6" width="1.6" height="5.0" fill="#ffe050" opacity="0.95" transform="rotate(-55 85.1 94.1)"/>
<rect x="74.1" y="91.0" width="1.6" height="4.5" fill="#f4c0d8" opacity="0.7" transform="rotate(-55 74.9 93.2)"/>
<rect x="76.0" y="91.3" width="1.6" height="4.5" fill="#f4c0d8" opacity="0.7" transform="rotate(-55 76.8 93.5)"/>
<rect x="77.9" y="91.6" width="1.6" height="4.5" fill="#f4c0d8" opacity="0.7" transform="rotate(-55 78.7 93.8)"/>
<ellipse cx="85.1" cy="100.7" rx="4.0" ry="4.0" fill="#8490e4" opacity="0.75" transform="rotate(10 85.1 100.7)"/>
<ellipse cx="86.1" cy="105.5" rx="2.9" ry="2.9" fill="#ac84cc" opacity="0.7" transform="rotate(10 86.1 105.5)"/>
<rect x="85.3" y="95.6" width="3.7" height="3.7" fill="#60a0c0" opacity="0.9"/>
<ellipse cx="96.8" cy="87.7" rx="2.4" ry="6.9" fill="#ffc444" opacity="0.9" transform="rotate(8 96.8 87.7)"/>
<ellipse cx="96.8" cy="89.8" rx="1.9" ry="2.7" fill="#ffe850" opacity="0.9" transform="rotate(8 96.8 89.8)"/>
<ellipse cx="95.7" cy="77.6" rx="2.4" ry="2.1" fill="#8088e0" opacity="0.9"/>
<ellipse cx="76.6" cy="116.6" rx="6.1" ry="3.5" fill="#ffb484" opacity="0.7" transform="rotate(25 76.6 116.6)"/>
<ellipse cx="70.7" cy="118.2" rx="1.9" ry="1.3" fill="#7088d8" opacity="0.9"/>
<ellipse cx="80.5" cy="120.1" rx="2.1" ry="2.1" fill="#ffe060" opacity="0.8"/>
<ellipse cx="50.5" cy="129.9" rx="5.0" ry="6.6" fill="#da90a4" opacity="0.8"/>
<ellipse cx="50.8" cy="133.1" rx="3.7" ry="2.9" fill="#e49484" opacity="0.8"/>
<rect x="58.3" y="124.2" width="2.0" height="7.8" fill="#ffb050" opacity="0.9" transform="rotate(-40 59.3 128.1)"/>
<rect x="60.7" y="124.7" width="2.0" height="7.8" fill="#ffb050" opacity="0.9" transform="rotate(-40 61.7 128.6)"/>
<rect x="63.1" y="125.2" width="2.0" height="7.8" fill="#ffb050" opacity="0.9" transform="rotate(-40 64.1 129.1)"/>
<ellipse cx="63.8" cy="130.4" rx="1.9" ry="1.9" fill="#ffe860" opacity="0.9"/>
<ellipse cx="67.5" cy="129.1" rx="2.4" ry="2.7" fill="#f490c4" opacity="0.85"/>
<ellipse cx="83.7" cy="73.3" rx="2.7" ry="3.2" fill="#90e8c0" opacity="0.8"/>
<rect x="70.0" y="65.6" width="1.8" height="3.3" fill="#ffd860" opacity="0.9" transform="rotate(30 70.9 67.2)"/>
<rect x="72.2" y="65.7" width="1.8" height="3.3" fill="#ffd860" opacity="0.9" transform="rotate(30 73.1 67.4)"/>
<rect x="74.3" y="65.9" width="1.8" height="3.3" fill="#ffd860" opacity="0.9" transform="rotate(30 75.2 67.6)"/>
<rect x="76.5" y="66.0" width="1.8" height="3.3" fill="#ffd860" opacity="0.9" transform="rotate(30 77.4 67.7)"/>
<ellipse cx="32.7" cy="127.3" rx="3.7" ry="4.0" fill="#e8c8a8" opacity="0.6"/>
<ellipse cx="58.2" cy="107.1" rx="2.7" ry="1.9" fill="#a8a8e8" opacity="0.7"/>
<ellipse cx="38.3" cy="101.0" rx="2.4" ry="2.1" fill="#f0b0a0" opacity="0.5"/>
<ellipse cx="10.9" cy="99.9" rx="2.1" ry="5.3" fill="#b0a8e0" opacity="0.6"/>
<ellipse cx="20.0" cy="70.1" rx="1.6" ry="2.1" fill="#8898e8" opacity="0.6"/>
<ellipse cx="46.8" cy="73.6" rx="1.9" ry="1.9" fill="#ffb070" opacity="0.8"/>
<ellipse cx="43.1" cy="75.7" rx="1.9" ry="2.9" fill="#f0a0c0" opacity="0.6"/>
</g>
<rect x="0" y="0" width="100" height="138.4" filter="url(#gn)" opacity=".16" style="mix-blend-mode:overlay"/>
<ellipse cx="50" cy="69.2" rx="50" ry="69.2" fill="none" stroke="#ffffff" stroke-width="2.4" opacity=".4" filter="url(#gb2)"/>
</g></g>
<linearGradient id="pbody" x1="0" y1="0" x2="0" y2="1">
  <stop offset="0" stop-color="#ea7e1a"/><stop offset=".15" stop-color="#f58a14"/><stop offset=".4" stop-color="#fe9210"/><stop offset=".68" stop-color="#ff9c14"/>
  <stop offset=".76" stop-color="#ffac18"/><stop offset=".88" stop-color="#ffb228"/><stop offset="1" stop-color="#ffb83e"/></linearGradient>
<linearGradient id="pfer" x1="0" y1="0" x2="0" y2="1">
  <stop offset="0" stop-color="#d0a07c"/><stop offset=".05" stop-color="#ddb08e"/><stop offset=".2" stop-color="#e0b696"/>
  <stop offset=".32" stop-color="#e8c4aa"/><stop offset=".5" stop-color="#eac6aa"/><stop offset=".72" stop-color="#f2d6c0"/>
  <stop offset=".8" stop-color="#e8c2a4"/><stop offset=".93" stop-color="#deb294"/><stop offset="1" stop-color="#d4a484"/></linearGradient>
<linearGradient id="pferdark" x1="0" y1="0" x2="0" y2="1">
  <stop offset="0" stop-color="#7a4a2c" stop-opacity="0"/><stop offset=".3" stop-color="#6e4226" stop-opacity=".3"/><stop offset=".48" stop-color="#5c341c" stop-opacity=".82"/><stop offset=".85" stop-color="#54301a" stop-opacity=".85"/><stop offset="1" stop-color="#5c341c" stop-opacity="0"/></linearGradient>
<linearGradient id="pferlight" x1="0" y1="0" x2="0" y2="1">
  <stop offset="0" stop-color="#fff8f0" stop-opacity="0"/><stop offset=".14" stop-color="#fff8f0" stop-opacity=".95"/><stop offset=".6" stop-color="#fff8f0" stop-opacity=".92"/><stop offset=".82" stop-color="#fff2e4" stop-opacity=".7"/><stop offset="1" stop-color="#fff2e4" stop-opacity="0"/></linearGradient>
<linearGradient id="pgap" x1="0" y1="0" x2="0" y2="1">
  <stop offset="0" stop-color="#e2b890" stop-opacity="0"/><stop offset=".3" stop-color="#dcae84" stop-opacity=".9"/><stop offset=".8" stop-color="#d6a478" stop-opacity=".95"/><stop offset="1" stop-color="#f0d8c0" stop-opacity=".6"/></linearGradient>
<linearGradient id="plin" x1="0" y1="0" x2="0" y2="1">
  <stop offset="0" stop-color="#8a5228" stop-opacity=".2"/><stop offset=".25" stop-color="#8a5228" stop-opacity=".95"/><stop offset=".7" stop-color="#9a6238" stop-opacity=".85"/><stop offset="1" stop-color="#b07848" stop-opacity="0"/></linearGradient>
<linearGradient id="perase" x1="0" y1="0" x2="0" y2="1">
  <stop offset="0" stop-color="#c85e62"/><stop offset=".1" stop-color="#ce5c60"/><stop offset=".4" stop-color="#d66066"/><stop offset=".7" stop-color="#e06a6e"/><stop offset="1" stop-color="#e87478"/></linearGradient>
<radialGradient id="eras" cx=".53" cy=".54" r=".53">
  <stop offset="0" stop-color="#cf5858"/><stop offset=".8" stop-color="#d05959"/><stop offset=".93" stop-color="#d56264"/><stop offset="1" stop-color="#db6e6e"/></radialGradient>
<filter id="pblur" x="-10%" y="-10%" width="120%" height="120%"><feGaussianBlur stdDeviation="0.8"/></filter>
<filter id="esh" x="-30%" y="-30%" width="160%" height="160%"><feGaussianBlur stdDeviation="6.5"/></filter>
</defs>
<rect width="2000" height="2000" fill="#fff"/>
<path d="M279.4 1634.72H318.8M253.4 1621.84H318.8M279.4 1608.96H318.8M253.4 1596.08H318.8M279.4 1583.20H318.8M253.4 1570.32H318.8M279.4 1557.44H318.8M253.4 1544.56H318.8M279.4 1531.68H318.8M279.4 1505.92H318.8M253.4 1493.04H318.8M279.4 1480.16H318.8M253.4 1467.28H318.8M279.4 1454.40H318.8M253.4 1441.52H318.8M279.4 1428.64H318.8M253.4 1415.76H318.8M279.4 1402.88H318.8M279.4 1377.12H318.8M253.4 1364.24H318.8M279.4 1351.36H318.8M253.4 1338.48H318.8M279.4 1325.60H318.8M253.4 1312.72H318.8M279.4 1299.84H318.8M253.4 1286.96H318.8M279.4 1274.08H318.8M279.4 1248.32H318.8M253.4 1235.44H318.8M279.4 1222.56H318.8M253.4 1209.68H318.8M279.4 1196.80H318.8M253.4 1183.92H318.8M279.4 1171.04H318.8M253.4 1158.16H318.8M279.4 1145.28H318.8M279.4 1119.52H318.8M253.4 1106.64H318.8M279.4 1093.76H318.8M253.4 1080.88H318.8M279.4 1068.00H318.8M253.4 1055.12H318.8M279.4 1042.24H318.8M253.4 1029.36H318.8M279.4 1016.48H318.8M279.4 990.72H318.8M253.4 977.84H318.8M279.4 964.96H318.8M253.4 952.08H318.8M279.4 939.20H318.8M253.4 926.32H318.8M279.4 913.44H318.8M253.4 900.56H318.8M279.4 887.68H318.8M279.4 861.92H318.8M253.4 849.04H318.8M279.4 836.16H318.8M253.4 823.28H318.8M279.4 810.40H318.8M253.4 797.52H318.8M279.4 784.64H318.8M253.4 771.76H318.8M279.4 758.88H318.8M279.4 733.12H318.8M253.4 720.24H318.8M279.4 707.36H318.8M253.4 694.48H318.8M279.4 681.60H318.8M253.4 668.72H318.8M279.4 655.84H318.8M253.4 642.96H318.8M279.4 630.08H318.8M279.4 604.32H318.8M253.4 591.44H318.8M279.4 578.56H318.8M253.4 565.68H318.8M279.4 552.80H318.8M253.4 539.92H318.8M279.4 527.04H318.8M253.4 514.16H318.8M279.4 501.28H318.8M279.4 475.52H318.8M253.4 462.64H318.8M279.4 449.76H318.8M253.4 436.88H318.8M279.4 424.00H318.8M253.4 411.12H318.8M279.4 398.24H318.8M253.4 385.36H318.8M279.4 372.48H318.8M279.4 346.72H318.8M253.4 333.84H318.8M279.4 320.96H318.8M253.4 308.08H318.8M279.4 295.20H318.8M253.4 282.32H318.8M279.4 269.44H318.8M253.4 256.56H318.8M279.4 243.68H318.8M279.4 217.92H318.8M253.4 205.04H318.8M279.4 192.16H318.8M253.4 179.28H318.8M279.4 166.40H318.8M253.4 153.52H318.8M279.4 140.64H318.8M253.4 127.76H318.8M279.4 114.88H318.8M331.88 1647.8V1686.7M344.76 1647.8V1713.3M357.64 1647.8V1686.7M370.52 1647.8V1713.3M383.40 1647.8V1686.7M396.28 1647.8V1713.3M409.16 1647.8V1686.7M422.04 1647.8V1713.3M434.92 1647.8V1686.7M460.68 1647.8V1686.7M473.56 1647.8V1713.3M486.44 1647.8V1686.7M499.32 1647.8V1713.3M512.20 1647.8V1686.7M525.08 1647.8V1713.3M537.96 1647.8V1686.7M550.84 1647.8V1713.3M563.72 1647.8V1686.7M589.48 1647.8V1686.7M602.36 1647.8V1713.3M615.24 1647.8V1686.7M628.12 1647.8V1713.3M641.00 1647.8V1686.7M653.88 1647.8V1713.3M666.76 1647.8V1686.7M679.64 1647.8V1713.3M692.52 1647.8V1686.7M718.28 1647.8V1686.7M731.16 1647.8V1713.3M744.04 1647.8V1686.7M756.92 1647.8V1713.3M769.80 1647.8V1686.7M782.68 1647.8V1713.3M795.56 1647.8V1686.7M808.44 1647.8V1713.3M821.32 1647.8V1686.7M847.08 1647.8V1686.7M859.96 1647.8V1713.3M872.84 1647.8V1686.7M885.72 1647.8V1713.3M898.60 1647.8V1686.7M911.48 1647.8V1713.3M924.36 1647.8V1686.7M937.24 1647.8V1713.3M950.12 1647.8V1686.7M975.88 1647.8V1686.7M988.76 1647.8V1713.3M1001.64 1647.8V1686.7M1014.52 1647.8V1713.3M1027.40 1647.8V1686.7M1040.28 1647.8V1713.3M1053.16 1647.8V1686.7M1066.04 1647.8V1713.3M1078.92 1647.8V1686.7M1104.68 1647.8V1686.7M1117.56 1647.8V1713.3M1130.44 1647.8V1686.7M1143.32 1647.8V1713.3M1156.20 1647.8V1686.7M1169.08 1647.8V1713.3M1181.96 1647.8V1686.7M1194.84 1647.8V1713.3M1207.72 1647.8V1686.7M1233.48 1647.8V1686.7M1246.36 1647.8V1713.3M1259.24 1647.8V1686.7M1272.12 1647.8V1713.3M1285.00 1647.8V1686.7M1297.88 1647.8V1713.3M1310.76 1647.8V1686.7M1323.64 1647.8V1713.3M1336.52 1647.8V1686.7M1362.28 1647.8V1686.7M1375.16 1647.8V1713.3M1388.04 1647.8V1686.7M1400.92 1647.8V1713.3M1413.80 1647.8V1686.7M1426.68 1647.8V1713.3M1439.56 1647.8V1686.7M1452.44 1647.8V1713.3M1465.32 1647.8V1686.7M1491.08 1647.8V1686.7M1503.96 1647.8V1713.3M1516.84 1647.8V1686.7M1529.72 1647.8V1713.3M1542.60 1647.8V1686.7M1555.48 1647.8V1713.3M1568.36 1647.8V1686.7M1581.24 1647.8V1713.3M1594.12 1647.8V1686.7M1619.88 1647.8V1686.7M1632.76 1647.8V1713.3M1645.64 1647.8V1686.7M1658.52 1647.8V1713.3M1671.40 1647.8V1686.7M1684.28 1647.8V1713.3M1697.16 1647.8V1686.7M1710.04 1647.8V1713.3M1722.92 1647.8V1686.7M1748.68 1647.8V1686.7M1761.56 1647.8V1713.3M1774.44 1647.8V1686.7M1787.32 1647.8V1713.3M1800.20 1647.8V1686.7M1813.08 1647.8V1713.3M1825.96 1647.8V1686.7M1838.84 1647.8V1713.3M1851.72 1647.8V1686.7" stroke="#000" stroke-width="2.65" stroke-linecap="round" fill="none"/>
<path d="M203.8 1518.80H318.5M203.8 1261.20H318.5M203.8 1003.60H318.5M203.8 746.00H318.5M203.8 488.40H318.5M203.8 230.80H318.5M447.80 1648.0V1762.4M705.40 1648.0V1762.4M963.00 1648.0V1762.4M1220.60 1648.0V1762.4M1478.20 1648.0V1762.4M1735.80 1648.0V1762.4" stroke="#000" stroke-width="4.9" stroke-linecap="round" fill="none"/>
<path d="M154.8 1647.60H318.6M154.8 1390.00H318.6M154.8 1132.40H318.6M154.8 874.80H318.6M154.8 617.20H318.6M154.8 359.60H318.6M154.8 102.00H318.6M319.00 1648.3V1811.9M576.60 1648.3V1811.9M834.20 1648.3V1811.9M1091.80 1648.3V1811.9M1349.40 1648.3V1811.9M1607.00 1648.3V1811.9M1864.60 1648.3V1811.9" stroke="#000" stroke-width="6.6" stroke-linecap="round" fill="none"/>
<path d="M154.8 1647.60H319V1811.9" stroke="#000" stroke-width="6.6" stroke-linecap="round" stroke-linejoin="round" fill="none"/>
<path d="M507.1 271.4L1003 273.45" stroke="#000" stroke-width="4.65" fill="none"/>
<use href="#gem" transform="translate(320.70 1518.30) scale(0.7600 0.9212)"/>
<use href="#gem" transform="translate(473.50 1466.90) scale(1.2880 1.2926)"/>
<use href="#gem" transform="translate(679.80 1426.30) scale(1.5860 1.5860)"/>
<use href="#gem" transform="translate(914.60 1371.10) scale(1.9860 1.9848)"/>
<use href="#gem" transform="translate(1191.90 1295.80) scale(2.5330 2.5325)"/>

<g id="pencil">
  <rect x="1763" y="1275.6" width="240" height="106.9" fill="url(#pbody)"/>
  <rect x="1763" y="1350.1" width="240" height="5.4" fill="#fce0c4"/>
  <rect x="1632.4" y="1274.5" width="131" height="108.5" fill="url(#pfer)"/>
  <g opacity=".3" filter="url(#pblur)"><rect x="1650.5" y="1274.5" width="3.5" height="108.5" fill="#a86c3c"/><rect x="1656" y="1274.5" width="3" height="108.5" fill="#f6dcc0"/><rect x="1664" y="1274.5" width="4" height="108.5" fill="#a86c3c"/><rect x="1669" y="1274.5" width="2.5" height="108.5" fill="#f6dcc0"/><rect x="1674" y="1274.5" width="3" height="108.5" fill="#b87c4c"/><rect x="1716" y="1274.5" width="4" height="108.5" fill="#9a5e30"/><rect x="1721" y="1274.5" width="3" height="108.5" fill="#fbe8d4"/><rect x="1725.5" y="1274.5" width="4" height="108.5" fill="#9a5e30"/><rect x="1730" y="1274.5" width="3" height="108.5" fill="#fbe8d4"/><rect x="1734" y="1274.5" width="4" height="108.5" fill="#9a5e30"/><rect x="1739" y="1274.5" width="3.5" height="108.5" fill="#fbe8d4"/><rect x="1744" y="1274.5" width="4" height="108.5" fill="#9a5e30"/><rect x="1752" y="1274.5" width="2.5" height="108.5" fill="#c08858"/></g>
  <rect x="1632.4" y="1300" width="131" height="34" fill="url(#pferdark)"/>
  <rect x="1632.4" y="1329.5" width="131" height="29" fill="url(#pferlight)"/>
  <g filter="url(#pblur)"><rect x="1653.5" y="1306" width="15.0" height="27" fill="url(#pgap)"/><rect x="1678.2" y="1306" width="6.0" height="27" fill="url(#pgap)"/><rect x="1717.5" y="1306" width="10.0" height="27" fill="url(#pgap)"/><rect x="1732.8" y="1306" width="6.400000000000091" height="27" fill="url(#pgap)"/><rect x="1745.2" y="1306" width="6.2000000000000455" height="27" fill="url(#pgap)"/><rect x="1675.3" y="1326" width="3.2" height="34" fill="url(#plin)"/><rect x="1716.6" y="1326" width="3.2" height="34" fill="url(#plin)"/><rect x="1727.2" y="1326" width="2.6" height="34" fill="url(#plin)"/><rect x="1734.2" y="1326" width="2.8" height="34" fill="url(#plin)"/><rect x="1746.2" y="1326" width="3.4" height="34" fill="url(#plin)"/><rect x="1653" y="1326" width="2.4" height="34" fill="url(#plin)"/><rect x="1666.5" y="1326" width="2.4" height="34" fill="url(#plin)"/></g>
  <g filter="url(#pblur)">
  <ellipse cx="1662" cy="1293" rx="4.4" ry="5" fill="#3a1c18"/>
  <ellipse cx="1660.6" cy="1345.5" rx="4.4" ry="5.4" fill="#cc463c"/>
  <ellipse cx="1661.4" cy="1352.5" rx="3.2" ry="2.4" fill="#8a4428"/>
  <ellipse cx="1661" cy="1377" rx="3" ry="2.4" fill="#6a4030"/>
  </g>
  <path d="M1584 1275H1632.6V1382.5H1584Q1577 1382.5 1577 1375.5V1282Q1577 1275 1584 1275Z" fill="url(#perase)"/>
</g>
<circle cx="1622.5" cy="1563.5" r="77.5" fill="#000" opacity=".24" filter="url(#esh)"/>
<path d="M1620 1474.5H1862M1619.2 1638.3H1862" stroke="#000" stroke-width="4.7" stroke-dasharray="20 10" fill="none"/>
<circle cx="1619.4" cy="1557.1" r="79.1" fill="url(#eras)"/>
<g opacity="0.999">
<text transform="translate(505.83 248.40) scale(1.0165 1.0235)" font-family="Liberation Sans, sans-serif" font-size="74" font-weight="bold" fill="#000" stroke="#fff" stroke-width="1.4">OPAL CHART</text>
<text transform="translate(324.55 1503.80) scale(1.1550 1.0353)" font-family="Liberation Sans, sans-serif" font-size="23" font-weight="normal" fill="#000" stroke="#000" stroke-width="0.45">5x3 mm</text>
<text transform="translate(496.12 1458.00) scale(1.1750 1.0294)" font-family="Liberation Sans, sans-serif" font-size="23" font-weight="normal" fill="#000" stroke="#000" stroke-width="0.45">7x5 mm</text>
<text transform="translate(709.00 1414.10) scale(1.1950 1.0294)" font-family="Liberation Sans, sans-serif" font-size="23" font-weight="normal" fill="#000" stroke="#000" stroke-width="0.45">8x6 mm</text>
<text transform="translate(957.72 1357.50) scale(1.1391 1.0294)" font-family="Liberation Sans, sans-serif" font-size="23" font-weight="normal" fill="#000" stroke="#000" stroke-width="0.45">10x8 mm</text>
<text transform="translate(1256.02 1274.50) scale(1.0894 1.0294)" font-family="Liberation Sans, sans-serif" font-size="23" font-weight="normal" fill="#000" stroke="#000" stroke-width="0.45">12x10 mm</text>
<text transform="translate(103.90 78.20) rotate(90) scale(1.0021 1.0344)" font-family="Liberation Sans, sans-serif" font-size="46" font-weight="normal" fill="#000" stroke="#000" stroke-width="0.5">60</text>
<text transform="translate(103.90 346.82) rotate(90) scale(0.9875 1.0344)" font-family="Liberation Sans, sans-serif" font-size="46" font-weight="normal" fill="#000" stroke="#000" stroke-width="0.5">50</text>
<text transform="translate(103.90 590.98) rotate(90) scale(1.0184 1.0344)" font-family="Liberation Sans, sans-serif" font-size="46" font-weight="normal" fill="#000" stroke="#000" stroke-width="0.5">40</text>
<text transform="translate(103.90 845.82) rotate(90) scale(0.9917 1.0344)" font-family="Liberation Sans, sans-serif" font-size="46" font-weight="normal" fill="#000" stroke="#000" stroke-width="0.5">30</text>
<text transform="translate(103.90 1108.97) rotate(90) scale(0.9667 1.0344)" font-family="Liberation Sans, sans-serif" font-size="46" font-weight="normal" fill="#000" stroke="#000" stroke-width="0.5">20</text>
<text transform="translate(103.90 1369.81) rotate(90) scale(0.9298 1.0344)" font-family="Liberation Sans, sans-serif" font-size="46" font-weight="normal" fill="#000" stroke="#000" stroke-width="0.5">10</text>
<text transform="translate(103.90 1636.65) rotate(90) scale(0.9773 1.0344)" font-family="Liberation Sans, sans-serif" font-size="46" font-weight="normal" fill="#000" stroke="#000" stroke-width="0.5">0</text>
<text transform="translate(153.90 1479.60) rotate(90) scale(1.0324 0.9692)" font-family="Liberation Sans, sans-serif" font-size="48" font-weight="normal" fill="#000" stroke="#000" stroke-width="0.5">mm</text>
<text transform="translate(304.44 1862.20) scale(1.0818 1.0500)" font-family="Liberation Sans, sans-serif" font-size="46" font-weight="normal" fill="#000" stroke="#000" stroke-width="0.5">0</text>
<text transform="translate(552.66 1862.20) scale(0.9468 1.0500)" font-family="Liberation Sans, sans-serif" font-size="46" font-weight="normal" fill="#000" stroke="#000" stroke-width="0.5">10</text>
<text transform="translate(804.08 1862.20) scale(1.0083 1.0500)" font-family="Liberation Sans, sans-serif" font-size="46" font-weight="normal" fill="#000" stroke="#000" stroke-width="0.5">20</text>
<text transform="translate(1066.38 1862.20) scale(1.0104 1.0500)" font-family="Liberation Sans, sans-serif" font-size="46" font-weight="normal" fill="#000" stroke="#000" stroke-width="0.5">30</text>
<text transform="translate(1324.67 1862.20) scale(1.0265 1.0500)" font-family="Liberation Sans, sans-serif" font-size="46" font-weight="normal" fill="#000" stroke="#000" stroke-width="0.5">40</text>
<text transform="translate(1578.98 1862.20) scale(1.0083 1.0500)" font-family="Liberation Sans, sans-serif" font-size="46" font-weight="normal" fill="#000" stroke="#000" stroke-width="0.5">50</text>
<text transform="translate(1834.53 1862.20) scale(1.1333 0.9750)" font-family="Liberation Sans, sans-serif" font-size="46" font-weight="normal" fill="#000" stroke="#000" stroke-width="0.5">60</text>
<text transform="translate(408.39 1811.50) scale(1.0703 0.9923)" font-family="Liberation Sans, sans-serif" font-size="48" font-weight="normal" fill="#000" stroke="#000" stroke-width="0.5">mm</text>
<text transform="translate(1697.15 1811.90) scale(1.0514 0.9500)" font-family="Liberation Sans, sans-serif" font-size="48" font-weight="normal" fill="#000" stroke="#000" stroke-width="0.5">mm</text>
<text transform="translate(1851.28 1620.40) rotate(-90) scale(0.8322 1.0163)" font-family="Liberation Sans, sans-serif" font-size="60" font-weight="normal" fill="#000" stroke="#000" stroke-width="0.5">6 mm</text>
<text transform="translate(203.11 1932.6) scale(0.9974)" font-family="Liberation Sans, sans-serif" font-size="32" fill="#000">Disclaimer: Due to the unique nature of each gemstone, your gemstone may vary slightly from the picture shown.</text>
</g>
</svg></body></html>
